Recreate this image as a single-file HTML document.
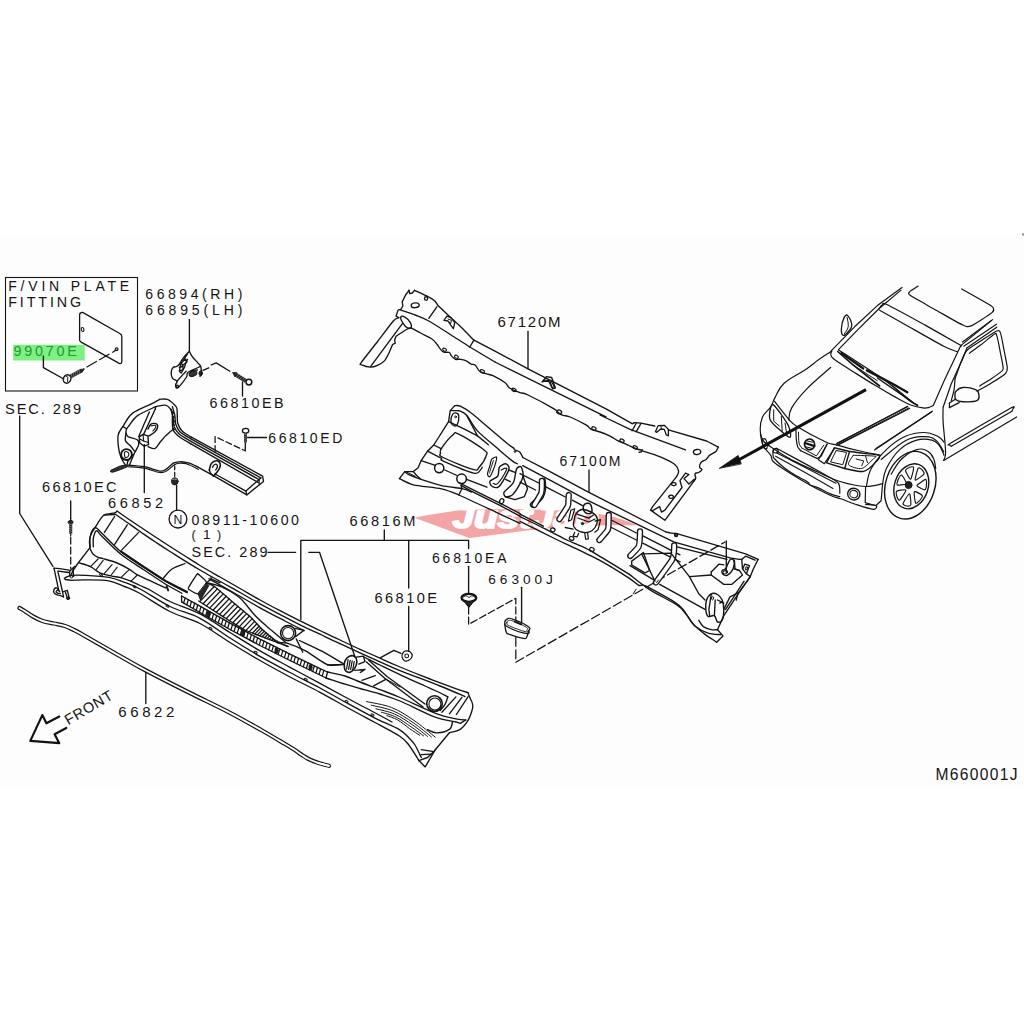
<!DOCTYPE html>
<html lang="en"><head><meta charset="utf-8"><title>Cowl parts diagram M660001J</title>
<style>
html,body{margin:0;padding:0;background:#fff;}
body{width:1024px;height:1024px;overflow:hidden;font-family:"Liberation Sans",sans-serif;}
svg{display:block;}
svg path,svg circle,svg ellipse{stroke-linecap:round;stroke-linejoin:round;}
svg text.lbl{font-family:"Liberation Sans",sans-serif;fill:#141414;}
</style></head><body>
<svg width="1024" height="1024" viewBox="0 0 1024 1024">
<rect width="1024" height="1024" fill="#ffffff"/>
<rect x="0" y="236" width="1024" height="551" fill="#fdfdfd"/>
<rect x="1022" y="233.5" width="2" height="2" fill="#8a8a8a"/>
<path d="M414.4,517.7 C430,514.5 450,511.3 463.6,510 C500,508.5 560,509 597,513.6 C612,516 627,520.5 637,525.4 C615,525 590,525.6 569,527 C550,528.2 537,529.3 527,530.6 L469.4,538 Z" fill="#f4a4a4"/>
<text x="452.5" y="527.6" font-family="Liberation Sans, sans-serif" font-weight="bold" font-style="italic" font-size="32" fill="#ffffff" stroke="#ffffff" stroke-width="2.0" stroke-linejoin="round" textLength="146" lengthAdjust="spacingAndGlyphs">JustJap</text>
<rect x="5.5" y="277.5" width="132" height="113.5" fill="none" stroke="#141414" stroke-width="1.1"/>
<text class="lbl" x="8.2" y="290.5" font-size="14" textLength="121" lengthAdjust="spacing">F/VIN PLATE</text>
<text class="lbl" x="8.2" y="306.75" font-size="14.3" textLength="73" lengthAdjust="spacing">FITTING</text>
<rect x="13.1" y="344.8" width="71.6" height="15.7" fill="#7ff082"/>
<text x="13.4" y="355.7" font-family="Liberation Sans, sans-serif" font-size="14.4" fill="#1f9a30" textLength="63.5" lengthAdjust="spacing">99070E</text>
<text class="lbl" x="145.3" y="298.75" font-size="14" textLength="97" lengthAdjust="spacing">66894(RH)</text>
<text class="lbl" x="145.3" y="315" font-size="14" textLength="97" lengthAdjust="spacing">66895(LH)</text>
<text class="lbl" x="5" y="414.25" font-size="14.6" textLength="76" lengthAdjust="spacing">SEC. 289</text>
<text class="lbl" x="42" y="492" font-size="14.6" textLength="74.5" lengthAdjust="spacing">66810EC</text>
<text class="lbl" x="108" y="508" font-size="14.6" textLength="55" lengthAdjust="spacing">66852</text>
<text class="lbl" x="209.5" y="407.5" font-size="14.3" textLength="74" lengthAdjust="spacing">66810EB</text>
<text class="lbl" x="268.3" y="442.5" font-size="14" textLength="74" lengthAdjust="spacing">66810ED</text>
<text class="lbl" x="191.5" y="524.6" font-size="14.2" textLength="107.5" lengthAdjust="spacing">08911-10600</text>
<text class="lbl" x="191.5" y="539" font-size="12.5">(</text>
<text class="lbl" x="203" y="539.3" font-size="13.7">1</text>
<text class="lbl" x="217" y="539" font-size="12.5">)</text>
<text class="lbl" x="191.5" y="556.8" font-size="14.4" textLength="76" lengthAdjust="spacing">SEC. 289</text>
<circle cx="178.0" cy="519.1" r="8.9" fill="none" stroke="#141414" stroke-width="1.35"/>
<text class="lbl" x="178" y="523.6" font-size="12.3" text-anchor="middle">N</text>
<text class="lbl" x="118.3" y="717" font-size="15" textLength="56" lengthAdjust="spacing">66822</text>
<text class="lbl" x="349.5" y="526" font-size="14.6" textLength="66" lengthAdjust="spacing">66816M</text>
<text class="lbl" x="374.5" y="602.5" font-size="14.6" textLength="62.5" lengthAdjust="spacing">66810E</text>
<text class="lbl" x="432" y="562.5" font-size="14" textLength="74.5" lengthAdjust="spacing">66810EA</text>
<text class="lbl" x="488.3" y="583.75" font-size="13.6" textLength="64.5" lengthAdjust="spacing">66300J</text>
<text class="lbl" x="497.5" y="326.8" font-size="15" textLength="63" lengthAdjust="spacing">67120M</text>
<text class="lbl" x="559.5" y="465.5" font-size="14" textLength="61" lengthAdjust="spacing">67100M</text>
<text class="lbl" x="935.5" y="780.4" font-size="15.6" textLength="82" lengthAdjust="spacing">M660001J</text>
<text class="lbl" x="68.1" y="725.1" font-size="14.6" textLength="53" lengthAdjust="spacing" transform="rotate(-30.3 68.6 725.1)">FRONT</text>
<path d="M79.6,315.0 Q79.6,312.4 82.6,312.4 L120.2,333.8 Q121.8,334.6 121.8,336.5 L121.8,361.2 Q121.8,364.2 119.2,363.4 L81.6,342.4 Q79.6,341.2 79.6,340.3 Z" fill="none" stroke="#141414" stroke-width="1.3" />
<ellipse cx="82.6" cy="329.5" rx="1.3" ry="2.0" transform="rotate(-15.0 82.6 329.5)" fill="none" stroke="#141414" stroke-width="1.1"/>
<circle cx="116.6" cy="349.3" r="1.4" fill="none" stroke="#141414" stroke-width="1.2"/>
<path d="M115.9,350.0 L112.7,352.2" fill="none" stroke="#141414" stroke-width="1.3" />
<path d="M109.0,354.2 L83.7,368.8" fill="none" stroke="#141414" stroke-width="1.25" stroke-dasharray="11 3.5"/>
<path d="M70.6,376.5 L81.6,370.4" fill="none" stroke="#262626" stroke-width="4.0" style="stroke-linecap:butt"/>
<path d="M71.1,373.9 L72.2,377.9" fill="none" stroke="#c8c8c8" stroke-width="0.45" />
<path d="M73.0,372.8 L74.1,376.8" fill="none" stroke="#c8c8c8" stroke-width="0.45" />
<path d="M75.0,371.8 L76.0,375.7" fill="none" stroke="#c8c8c8" stroke-width="0.45" />
<path d="M76.9,370.7 L78.0,374.7" fill="none" stroke="#c8c8c8" stroke-width="0.45" />
<path d="M78.8,369.6 L79.9,373.6" fill="none" stroke="#c8c8c8" stroke-width="0.45" />
<path d="M81.3,369.2 L84.2,369.3 L82.4,371.8 Z" fill="#262626" stroke="#141414" stroke-width="0.8" />
<ellipse cx="67.1" cy="379.0" rx="3.7" ry="4.3" transform="rotate(25.0 67.1 379.0)" fill="none" stroke="#141414" stroke-width="1.4"/>
<path d="M65.4,375.7 L67.8,377.1 L67.6,381.6" fill="none" stroke="#141414" stroke-width="1.0" />
<path d="M43.4,355.9 L43.4,367.7 L63.8,379.0" fill="none" stroke="#141414" stroke-width="1.35" />
<path d="M189.4,319.5 L189.4,351.5" fill="none" stroke="#141414" stroke-width="1.35" />
<path d="M242.5,382.0 L242.5,396.0" fill="none" stroke="#141414" stroke-width="1.35" />
<path d="M203.0,370.3 L208.8,367.8" fill="none" stroke="#141414" stroke-width="1.3" />
<path d="M211.3,364.9 L216.2,362.9 L229.8,371.2" fill="none" stroke="#141414" stroke-width="1.3" />
<path d="M247.0,437.5 L266.5,437.5" fill="none" stroke="#141414" stroke-width="1.35" />
<path d="M215.1,451.5 L215.1,436.6 L245.2,450.8" fill="none" stroke="#141414" stroke-width="1.25" stroke-dasharray="6 3"/>
<path d="M245.2,450.8 L245.4,443.0" fill="none" stroke="#141414" stroke-width="1.35" />
<path d="M144.3,444.5 L144.3,492.5" fill="none" stroke="#141414" stroke-width="1.35" />
<path d="M174.7,465.8 L174.7,477.5" fill="none" stroke="#141414" stroke-width="1.25" stroke-dasharray="4 2.5"/>
<path d="M176.6,485.5 L176.6,510.0" fill="none" stroke="#141414" stroke-width="1.35" />
<path d="M19.7,416.0 L19.7,513.5 L52.9,566.4" fill="none" stroke="#141414" stroke-width="1.35" />
<path d="M70.7,500.8 L70.7,518.6" fill="none" stroke="#141414" stroke-width="1.35" />
<path d="M70.7,537.0 L70.7,568.5" fill="none" stroke="#141414" stroke-width="1.25" stroke-dasharray="7 3"/>
<path d="M268.0,552.3 L295.6,552.3" fill="none" stroke="#141414" stroke-width="1.35" />
<path d="M308.8,552.3 L319.5,552.3 L355.0,657.0" fill="none" stroke="#141414" stroke-width="1.35" />
<path d="M384.3,530.0 L384.3,540.3" fill="none" stroke="#141414" stroke-width="1.35" />
<path d="M300.8,619.5 L300.8,540.3 L468.6,540.3 L468.6,548.5" fill="none" stroke="#141414" stroke-width="1.35" />
<path d="M408.7,540.3 L408.7,588.0" fill="none" stroke="#141414" stroke-width="1.35" />
<path d="M408.7,606.5 L408.7,651.0" fill="none" stroke="#141414" stroke-width="1.35" />
<path d="M468.6,566.3 L468.6,593.6" fill="none" stroke="#141414" stroke-width="1.35" />
<path d="M468.6,607.0 L468.6,624.4 L515.8,598.3 L515.8,619.4" fill="none" stroke="#141414" stroke-width="1.25" stroke-dasharray="7 3"/>
<path d="M521.6,587.3 L521.6,622.5" fill="none" stroke="#141414" stroke-width="1.35" />
<path d="M515.8,637.3 L515.8,662.3 L725.0,542.0" fill="none" stroke="#141414" stroke-width="1.25" stroke-dasharray="9 3.5"/>
<path d="M726.3,541.0 L726.3,572.5" fill="none" stroke="#141414" stroke-width="1.35" />
<path d="M145.8,671.5 L145.8,703.5" fill="none" stroke="#141414" stroke-width="1.35" />
<path d="M528.0,331.3 L528.0,368.8" fill="none" stroke="#141414" stroke-width="1.35" />
<path d="M589.0,470.0 L589.0,491.8" fill="none" stroke="#141414" stroke-width="1.35" />
<path d="M189.4,351.2 C190.2,352.8 190.2,353.7 192.5,356.9 C194.8,360.0 196.0,360.6 198.1,363.1 C200.3,365.6 199.8,364.4 200.6,366.2 C201.5,368.1 200.9,368.0 201.2,370.0 C201.6,372.0 202.2,372.1 201.9,373.8 C201.5,375.4 200.5,375.6 200.0,376.2" fill="none" stroke="#141414" stroke-width="1.35" />
<path d="M189.4,351.2 C187.7,353.1 186.1,354.3 183.1,358.1 C180.1,362.0 180.8,363.1 178.1,365.6 C175.5,368.1 175.0,365.7 173.1,367.5 C171.3,369.3 171.4,369.7 171.2,372.5 C171.1,375.3 171.0,375.8 172.5,378.1 C174.0,380.5 176.0,379.4 176.9,381.2 C177.7,383.1 175.6,383.2 175.6,385.0 C175.6,386.8 175.7,388.0 176.9,388.1 C178.0,388.3 177.5,388.5 180.0,385.6 C182.5,382.8 184.2,380.8 186.2,377.5 C188.2,374.2 186.2,375.0 187.5,373.1 C188.8,371.3 188.6,371.5 191.2,370.6 C193.9,369.8 195.8,370.2 197.5,370.0" fill="none" stroke="#141414" stroke-width="1.35" />
<path d="M187.5,353.8 L180.6,364.4 L179.4,371.2 L181.2,373.1 L184.4,367.5 L186.2,361.9 L187.5,359.4" fill="none" stroke="#141414" stroke-width="1.35" />
<path d="M181.2,362.5 L185.6,359.0 L186.9,361.9 L182.5,365.6 L181.2,362.5" fill="none" stroke="#141414" stroke-width="1.35" />
<path d="M179.4,367.5 L183.1,366.2 L182.8,369.8 L179.8,370.6" fill="none" stroke="#141414" stroke-width="1.35" />
<path d="M176.9,381.2 L183.1,374.4 L186.2,371.2" fill="none" stroke="#141414" stroke-width="1.35" />
<path d="M191.2,370.6 L198.1,367.5 L200.6,366.2" fill="none" stroke="#141414" stroke-width="1.35" />
<ellipse cx="193.0" cy="373.6" rx="4.0" ry="2.6" transform="rotate(-20.0 193.0 373.6)" fill="#333" stroke="#141414" stroke-width="1.0"/>
<ellipse cx="200.6" cy="373.3" rx="1.6" ry="2.4" transform="rotate(0.0 200.6 373.3)" fill="#222" stroke="#141414" stroke-width="1.0"/>
<circle cx="177.3" cy="386.3" r="1.2" fill="none" stroke="#141414" stroke-width="1.35"/>
<path d="M245.9,381.0 L235.5,374.5" fill="none" stroke="#262626" stroke-width="3.9" style="stroke-linecap:butt"/>
<path d="M243.4,381.8 L246.3,379.0" fill="none" stroke="#c8c8c8" stroke-width="0.45" />
<path d="M241.6,380.6 L244.5,377.8" fill="none" stroke="#c8c8c8" stroke-width="0.45" />
<path d="M239.7,379.4 L242.6,376.6" fill="none" stroke="#c8c8c8" stroke-width="0.45" />
<path d="M237.8,378.3 L240.7,375.5" fill="none" stroke="#c8c8c8" stroke-width="0.45" />
<path d="M236.0,377.1 L238.9,374.3" fill="none" stroke="#c8c8c8" stroke-width="0.45" />
<path d="M236.3,372.6 L232.6,372.6 L234.7,376.4 Z" fill="#262626" stroke="#141414" stroke-width="0.8" />
<circle cx="248.9" cy="382.1" r="2.9" fill="none" stroke="#141414" stroke-width="1.5"/>
<ellipse cx="245.6" cy="430.8" rx="3.2" ry="2.4" transform="rotate(0.0 245.6 430.8)" fill="none" stroke="#141414" stroke-width="1.3"/>
<path d="M245.5,433.3 L245.5,442.5" fill="none" stroke="#262626" stroke-width="3.0" style="stroke-linecap:butt"/>
<path d="M247.0,435.0 L244.0,434.0" fill="none" stroke="#c8c8c8" stroke-width="0.45" />
<path d="M247.0,437.2 L244.0,436.2" fill="none" stroke="#c8c8c8" stroke-width="0.45" />
<path d="M247.0,439.4 L244.0,438.4" fill="none" stroke="#c8c8c8" stroke-width="0.45" />
<path d="M247.0,441.6 L244.0,440.6" fill="none" stroke="#c8c8c8" stroke-width="0.45" />
<ellipse cx="174.8" cy="481.3" rx="3.3" ry="3.6" transform="rotate(0.0 174.8 481.3)" fill="#2a2a2a" stroke="#141414" stroke-width="1.0"/>
<path d="M172.5,479.2 L177.0,479.2" fill="none" stroke="#ddd" stroke-width="0.7" />
<path d="M70.7,518.6 L70.7,521.1" fill="none" stroke="#141414" stroke-width="1.2" />
<path d="M68.3,521.5 L70.7,520.0 L73.1,521.5 L72.6,523.3 L68.8,523.3 Z" fill="#2a2a2a" stroke="#141414" stroke-width="1.0" />
<path d="M70.7,523.3 L70.7,533.8" fill="none" stroke="#262626" stroke-width="3.1" style="stroke-linecap:butt"/>
<path d="M72.3,525.0 L69.2,524.0" fill="none" stroke="#c8c8c8" stroke-width="0.45" />
<path d="M72.3,527.2 L69.2,526.2" fill="none" stroke="#c8c8c8" stroke-width="0.45" />
<path d="M72.3,529.4 L69.2,528.4" fill="none" stroke="#c8c8c8" stroke-width="0.45" />
<path d="M72.3,531.6 L69.2,530.6" fill="none" stroke="#c8c8c8" stroke-width="0.45" />
<path d="M72.3,533.8 L69.2,532.8" fill="none" stroke="#c8c8c8" stroke-width="0.45" />
<path d="M70.7,533.8 L70.7,535.7" fill="none" stroke="#141414" stroke-width="1.2" />
<path d="M54.0,568.2 L59.7,568.7 L69.2,570.2" fill="none" stroke="#141414" stroke-width="1.35" />
<path d="M58.4,571.2 L68.6,572.5" fill="none" stroke="#141414" stroke-width="1.35" />
<path d="M54.0,568.2 L58.7,590.3" fill="none" stroke="#141414" stroke-width="1.35" />
<path d="M57.8,571.2 L62.5,591.6 L63.5,596.9" fill="none" stroke="#141414" stroke-width="1.35" />
<path d="M58.7,590.3 C58.3,589.9 57.3,587.9 56.5,587.8 C55.7,587.6 54.4,588.8 54.0,589.7 C53.5,590.5 53.5,592.0 54.0,592.8 C54.4,593.7 55.5,594.3 56.5,594.7 C57.4,595.2 58.5,595.0 59.7,595.4 C60.8,595.7 62.8,596.6 63.5,596.9" fill="none" stroke="#141414" stroke-width="1.35" />
<path d="M59.7,591.6 C59.4,591.3 58.4,590.3 57.8,590.3 C57.2,590.3 56.2,591.1 56.1,591.6 C56.0,592.0 56.7,592.8 57.4,593.1 C58.1,593.4 59.8,593.4 60.3,593.5" fill="none" stroke="#141414" stroke-width="1.35" />
<path d="M63.5,591.6 L67.3,590.3 L69.2,597.9" fill="none" stroke="#141414" stroke-width="1.35" />
<path d="M65.4,592.2 L67.3,597.9" fill="none" stroke="#141414" stroke-width="1.35" />
<ellipse cx="68.1" cy="598.3" rx="1.6" ry="1.3" transform="rotate(0.0 68.1 598.3)" fill="#222" stroke="#141414" stroke-width="1.0"/>
<path d="M69.6,571.2 L73.0,568.1 L74.9,566.2" fill="none" stroke="#141414" stroke-width="1.35" />
<path d="M73.0,568.1 L73.6,576.3" fill="none" stroke="#141414" stroke-width="1.35" />
<path d="M69.6,571.2 L69.8,575.7" fill="none" stroke="#141414" stroke-width="1.35" />
<circle cx="71.5" cy="576.5" r="1.5" fill="none" stroke="#141414" stroke-width="1.0"/>
<ellipse cx="468.9" cy="597.8" rx="7.4" ry="4.0" transform="rotate(0.0 468.9 597.8)" fill="none" stroke="#141414" stroke-width="2.3"/>
<path d="M463.5,597.2 C463.9,597.0 465.1,595.8 466.0,595.8 C466.9,595.8 468.0,597.3 469.0,597.3 C470.0,597.3 471.1,595.8 472.0,595.8 C472.9,595.8 474.1,597.0 474.5,597.2" fill="none" stroke="#141414" stroke-width="1.0" />
<path d="M464.5,601.6 L468.9,607.2 L473.3,601.6" fill="#222" stroke="#141414" stroke-width="1.2" />
<path d="M402.5,653.6 C403.1,652.5 404.3,651.2 405.6,650.9 C406.9,650.7 409.2,651.2 410.3,652.0 C411.4,652.9 412.3,654.6 412.2,655.9 C412.1,657.2 410.8,659.0 409.5,659.8 C408.3,660.7 406.1,661.3 404.8,660.9 C403.6,660.5 402.6,658.7 402.2,657.5 C401.8,656.3 401.9,654.7 402.5,653.6 Z" fill="none" stroke="#141414" stroke-width="1.2" />
<circle cx="406.7" cy="655.9" r="1.9" fill="none" stroke="#141414" stroke-width="1.1"/>
<path d="M504.8,622.8 C504.6,620.8 505.5,619.6 507.5,618.8 C509.5,617.9 508.7,617.6 513.4,619.4 C518.2,621.1 524.2,623.7 527.8,626.2 C531.5,628.8 529.5,628.6 529.1,630.3 C528.6,632.0 530.7,634.1 525.9,633.4 C521.2,632.8 513.7,630.0 508.8,627.5 C503.8,625.0 505.1,624.9 504.8,622.8 Z" fill="none" stroke="#141414" stroke-width="1.3" />
<path d="M506.9,622.8 C506.7,621.6 507.2,621.0 508.8,620.6 C510.3,620.3 509.4,619.7 513.4,621.2 C517.5,622.8 523.1,625.1 526.2,627.2 C529.4,629.2 527.1,629.0 526.9,630.0 C526.6,631.0 529.2,632.5 525.2,631.6 C521.1,630.6 513.8,628.0 509.5,625.9 C505.3,623.9 507.1,624.1 506.9,622.8 Z" fill="none" stroke="#141414" stroke-width="0.9" />
<path d="M504.7,623.8 C505.1,625.6 505.1,629.4 506.2,631.9 C507.4,634.4 505.5,632.8 509.5,634.4 C513.6,635.9 519.5,637.9 523.6,638.4 C527.6,638.9 525.7,638.4 526.9,636.6 C528.0,634.7 528.2,632.0 528.6,630.6" fill="none" stroke="#141414" stroke-width="1.3" />
<path d="M514.7,621.7 L521.2,624.4" fill="none" stroke="#141414" stroke-width="1.8" />
<path d="M59.3,716.6 L46.4,723.3 L42.3,715.1 L30.3,740.9 L59.3,743.2 L54.6,734.2 L66.3,728.0" fill="none" stroke="#111" stroke-width="2.2" />
<path d="M866.0,389.6 L738.0,460.3" fill="none" stroke="#111" stroke-width="3.0" style="stroke-linecap:butt"/>
<path d="M719.5,468.2 L738.2,455.4 L741.2,463.6 Z" fill="#111" stroke="#111" stroke-width="0.8" />
<path d="M159.7,399.3 C160.9,399.3 165.4,398.6 167.5,399.3 C169.6,399.9 172.0,402.4 173.4,403.7 C174.8,405.0 176.2,406.3 176.8,408.1 C177.4,409.8 177.1,413.1 177.3,415.4 C177.4,417.7 177.0,420.9 177.8,423.2 C178.5,425.5 180.2,429.0 182.1,431.0 C184.1,433.1 189.6,436.0 190.9,436.9" fill="none" stroke="#141414" stroke-width="1.35" />
<path d="M190.9,436.9 L262.6,476.1 L263.5,481.4 L246.8,494.9 L214.3,476.1 L198.4,467.3" fill="none" stroke="#141414" stroke-width="1.35" />
<path d="M198.4,467.3 C197.3,466.8 193.5,464.7 191.4,463.8 C189.3,463.0 188.1,462.6 186.1,462.3 C184.0,461.9 181.3,461.6 179.2,461.8 C177.1,461.9 175.6,461.9 173.4,463.2 C171.1,464.5 167.8,468.3 165.5,469.6 C163.3,470.9 163.3,471.5 159.7,471.1 C156.1,470.6 149.3,467.6 144.1,466.7 C138.9,465.7 131.0,465.4 128.4,465.2" fill="none" stroke="#141414" stroke-width="1.35" />
<path d="M198.4,469.5 C197.3,468.8 193.5,466.7 191.4,465.8 C189.3,464.8 188.0,464.1 186.1,463.6 C184.1,463.2 181.7,463.1 179.7,463.2 C177.8,463.4 176.5,463.4 174.3,464.7 C172.1,466.0 169.0,469.8 166.5,471.1 C164.1,472.4 163.4,473.0 159.7,472.5 C155.9,472.0 149.3,469.1 144.1,468.1 C138.9,467.1 131.0,466.9 128.4,466.7" fill="none" stroke="#141414" stroke-width="1.1" />
<path d="M159.7,399.3 C158.5,399.9 156.0,401.5 151.9,403.7 C147.8,405.8 136.7,410.1 132.3,413.4 C128.0,416.8 125.2,422.9 123.1,426.1 C120.9,429.4 118.8,431.6 118.2,434.9 C117.5,438.3 118.2,445.2 118.7,448.6 C119.1,452.0 120.1,454.9 121.1,457.4 C122.1,459.9 124.8,464.0 125.5,465.2" fill="none" stroke="#141414" stroke-width="1.35" />
<path d="M126.0,465.0 L119.6,466.2 L110.9,470.3 L110.4,471.8 L112.8,472.2 L120.6,469.6 L127.9,466.4 Z" fill="#333" stroke="#141414" stroke-width="1.0" />
<path d="M155.8,406.6 C153.0,408.0 141.4,412.8 137.2,415.9 C133.1,419.0 129.6,425.1 127.9,427.1 C126.3,429.1 126.7,428.8 126.5,429.1" fill="none" stroke="#141414" stroke-width="1.35" />
<path d="M123.1,426.6 L126.5,428.8" fill="none" stroke="#141414" stroke-width="1.35" />
<path d="M126.5,429.1 C126.4,429.7 125.7,431.7 126.0,433.0 C126.3,434.3 126.6,435.7 128.4,436.9 C130.3,438.0 135.5,438.5 137.2,439.8 C138.9,441.1 139.2,442.4 138.7,444.7 C138.2,447.0 135.8,450.1 134.3,453.5 C132.8,456.9 130.2,463.2 129.4,465.2" fill="none" stroke="#141414" stroke-width="1.35" />
<path d="M126.0,433.0 C125.9,434.3 124.8,438.7 125.5,440.8 C126.2,442.9 128.9,444.0 130.4,445.7 C131.9,447.4 133.6,450.1 134.3,451.0" fill="none" stroke="#141414" stroke-width="1.35" />
<path d="M149.4,412.0 L138.7,436.4" fill="none" stroke="#141414" stroke-width="1.35" />
<path d="M155.3,409.0 L143.6,434.4" fill="none" stroke="#141414" stroke-width="1.35" />
<path d="M155.8,406.6 L155.3,409.0" fill="none" stroke="#141414" stroke-width="1.35" />
<path d="M139.2,436.9 L143.1,434.4 L148.0,435.9 L148.5,444.7 L144.1,446.2 L139.7,442.7 L139.2,436.9" fill="none" stroke="#141414" stroke-width="1.4" />
<path d="M143.1,434.9 L143.6,441.0 L148.2,442.5" fill="none" stroke="#141414" stroke-width="1.1" />
<path d="M139.4,438.8 L143.6,441.0" fill="none" stroke="#141414" stroke-width="1.1" />
<path d="M148.0,429.1 C148.5,428.2 149.6,425.1 150.9,424.2 C152.2,423.3 154.6,423.3 155.8,423.7 C156.9,424.1 157.9,425.2 157.7,426.6 C157.6,428.0 156.3,430.4 154.8,432.0 C153.3,433.5 149.9,435.2 148.9,435.9" fill="none" stroke="#141414" stroke-width="1.4" />
<path d="M150.9,425.9 C151.5,425.8 154.0,425.0 154.8,425.2 C155.6,425.4 156.1,426.1 155.8,427.1 C155.5,428.1 153.3,430.4 152.9,431.0" fill="none" stroke="#141414" stroke-width="1.1" />
<path d="M155.8,406.6 C157.4,406.4 163.1,404.7 165.5,405.1 C168.0,405.5 169.3,407.5 170.4,409.0 C171.6,410.6 172.1,413.5 172.4,414.4" fill="none" stroke="#141414" stroke-width="1.35" />
<path d="M173.4,429.1 C172.1,430.2 167.8,433.6 165.5,435.9 C163.3,438.2 161.5,440.6 159.7,442.7 C157.9,444.9 156.8,447.9 154.8,448.6 C152.9,449.2 149.1,447.0 148.0,446.6" fill="none" stroke="#141414" stroke-width="1.35" />
<circle cx="126.5" cy="454.5" r="5.4" fill="none" stroke="#141414" stroke-width="1.9"/>
<path d="M124.5,452.5 C124.9,451.6 126.2,451.5 127.0,451.7 C127.7,452.0 128.8,453.1 128.9,454.0 C129.0,454.8 128.3,456.4 127.7,456.9 C127.0,457.4 125.5,457.9 125.0,457.2 C124.5,456.5 124.2,453.4 124.5,452.5 Z" fill="none" stroke="#141414" stroke-width="1.1" />
<path d="M121.1,457.4 L127.9,460.8 L133.3,454.5" fill="none" stroke="#141414" stroke-width="1.35" />
<path d="M127.9,460.8 L127.0,465.2" fill="none" stroke="#141414" stroke-width="1.35" />
<path d="M172.4,406.6 C172.7,407.9 174.3,412.8 174.8,415.4 C175.3,418.0 175.0,421.7 175.8,424.2 C176.6,426.7 177.9,429.8 180.2,432.0 C182.5,434.2 189.3,437.8 190.9,438.8" fill="none" stroke="#141414" stroke-width="1.35" />
<path d="M171.4,409.5 C171.7,411.0 172.9,416.7 173.4,419.3 C173.8,421.9 173.5,424.9 174.3,427.1 C175.2,429.3 176.7,431.8 179.2,433.9 C181.7,436.1 189.2,440.2 190.9,441.3" fill="none" stroke="#141414" stroke-width="1.35" />
<path d="M172.4,414.4 C172.5,416.6 172.0,425.8 172.9,429.1 C173.8,432.3 175.5,433.7 178.2,435.9 C181.0,438.1 189.0,442.7 190.9,443.9" fill="none" stroke="#141414" stroke-width="1.35" />
<path d="M172.6,412.0 L174.5,413.7" fill="none" stroke="#141414" stroke-width="1.3" />
<path d="M172.6,415.9 L174.5,417.6" fill="none" stroke="#141414" stroke-width="1.3" />
<path d="M172.6,419.8 L174.5,421.5" fill="none" stroke="#141414" stroke-width="1.3" />
<path d="M172.6,423.7 L174.5,425.4" fill="none" stroke="#141414" stroke-width="1.3" />
<path d="M172.6,427.6 L174.5,429.4" fill="none" stroke="#141414" stroke-width="1.3" />
<path d="M190.9,438.8 L260.8,477.9" fill="none" stroke="#141414" stroke-width="1.35" />
<path d="M190.9,441.3 L259.1,479.6" fill="none" stroke="#141414" stroke-width="1.35" />
<path d="M190.9,443.9 L258.2,482.5" fill="none" stroke="#141414" stroke-width="1.35" />
<path d="M260.8,477.9 L245.9,491.1 L215.1,474.0" fill="none" stroke="#141414" stroke-width="1.35" />
<path d="M259.1,479.6 L259.1,484.0" fill="none" stroke="#141414" stroke-width="1.35" />
<path d="M245.9,491.1 L246.8,494.9" fill="none" stroke="#141414" stroke-width="1.35" />
<path d="M215.1,474.0 L214.3,476.1" fill="none" stroke="#141414" stroke-width="1.35" />
<path d="M209.3,470.0 C209.6,469.1 210.1,466.1 210.7,464.7 C211.4,463.3 212.3,462.4 213.4,461.7 C214.5,461.1 216.3,460.5 217.4,460.8 C218.6,461.2 219.9,462.6 220.2,463.8 C220.6,465.1 220.1,466.8 219.5,468.2 C218.9,469.7 217.7,471.3 216.7,472.6 C215.7,473.9 213.9,475.5 213.4,476.1" fill="none" stroke="#141414" stroke-width="1.6" />
<path d="M212.5,467.3 C212.8,466.9 213.6,465.2 214.3,464.7 C215.0,464.2 216.2,464.1 216.7,464.5 C217.2,464.9 217.6,466.1 217.4,467.0 C217.2,467.9 216.0,469.5 215.7,470.0" fill="none" stroke="#141414" stroke-width="1.3" />
<path d="M209.3,470.0 L210.4,473.0 L213.4,476.1" fill="none" stroke="#141414" stroke-width="1.4" />
<path d="M117.0,511.0 C118.8,512.3 124.2,516.1 128.0,518.7 C131.8,521.3 135.5,523.8 140.0,526.8 C144.5,529.8 150.0,533.5 155.0,536.8 C160.0,540.1 165.0,543.3 170.0,546.5 C175.0,549.7 180.0,552.8 185.0,556.0 C190.0,559.2 194.2,562.0 200.0,565.5 C205.8,569.0 213.3,573.2 220.0,577.0 C226.7,580.8 233.3,584.7 240.0,588.5 C246.7,592.3 253.3,596.3 260.0,600.0 C266.7,603.7 273.3,607.2 280.0,610.7 C286.7,614.2 293.3,617.6 300.0,620.9 C306.7,624.2 313.3,627.3 320.0,630.5 C326.7,633.7 333.3,636.9 340.0,640.0 C346.7,643.1 353.3,646.3 360.0,649.3 C366.7,652.3 373.3,655.2 380.0,658.2 C386.7,661.2 391.7,663.5 400.0,667.0 C408.3,670.5 420.8,675.5 430.0,679.0 C439.2,682.5 448.6,686.0 455.0,688.3 C461.4,690.6 465.9,692.0 468.1,692.7" fill="none" stroke="#141414" stroke-width="1.35" />
<path d="M114.7,513.8 C116.9,515.3 123.8,520.0 128.0,523.0 C132.2,526.0 135.5,528.4 140.0,531.5 C144.5,534.6 150.0,538.5 155.0,541.8 C160.0,545.1 162.5,546.8 170.0,551.5 C177.5,556.2 188.3,563.2 200.0,570.0 C211.7,576.8 230.0,586.9 240.0,592.5 C250.0,598.1 250.0,598.5 260.0,603.9 C270.0,609.3 290.0,619.8 300.0,624.8 C310.0,629.8 313.3,631.1 320.0,634.2 C326.7,637.4 330.0,639.1 340.0,643.7 C350.0,648.3 370.0,657.3 380.0,661.8 C390.0,666.3 390.0,666.6 400.0,670.6 C410.0,674.6 429.2,681.7 440.0,686.0 C450.8,690.3 460.8,694.8 465.0,696.6" fill="none" stroke="#141414" stroke-width="1.35" />
<path d="M209.0,578.8 C213.3,581.2 226.5,588.7 235.0,593.5 C243.5,598.3 251.7,603.2 260.0,607.8 C268.3,612.4 277.7,617.2 285.0,621.0 C292.3,624.8 300.8,629.1 304.0,630.7" fill="none" stroke="#141414" stroke-width="1.35" />
<path d="M364.0,657.0 C366.7,658.3 373.6,661.9 380.0,665.0 C386.4,668.1 395.0,672.3 402.5,675.8 C410.0,679.3 419.0,683.3 425.0,686.0 C431.0,688.7 434.6,690.2 438.4,692.0 C442.2,693.8 446.2,696.1 447.8,696.9" fill="none" stroke="#141414" stroke-width="1.35" />
<path d="M116.5,511.4 C116.2,511.7 116.5,512.4 114.6,512.9 C112.7,513.5 106.5,513.5 103.8,515.2 C101.1,517.0 98.7,521.9 96.8,524.8 C94.9,527.6 92.2,531.9 91.1,534.3 C90.0,536.7 89.6,538.9 89.5,540.9 C89.3,542.9 89.9,546.6 90.0,547.6" fill="none" stroke="#141414" stroke-width="1.35" />
<path d="M90.0,547.6 L77.8,563.5 L72.7,571.1 L70.7,575.9" fill="none" stroke="#141414" stroke-width="1.35" />
<path d="M103.8,515.2 L114.8,514.5" fill="none" stroke="#141414" stroke-width="1.35" />
<path d="M114.6,516.5 L104.4,532.4" fill="none" stroke="#141414" stroke-width="1.35" />
<path d="M127.3,524.8 L114.6,544.4" fill="none" stroke="#141414" stroke-width="1.35" />
<path d="M138.7,532.4 L121.6,550.1" fill="none" stroke="#141414" stroke-width="1.35" />
<path d="M90.1,547.2 C90.1,545.9 89.6,540.6 90.0,538.1 C90.3,535.5 91.4,531.7 92.4,530.2 C93.3,528.7 94.8,527.5 96.2,527.9 C97.6,528.4 98.2,529.7 101.9,533.3 C105.6,536.8 114.7,546.7 120.9,551.8 C127.2,556.9 137.1,562.9 143.8,567.3 C150.5,571.7 158.9,577.4 165.4,581.2 C171.8,585.1 183.7,591.0 187.0,592.7" fill="none" stroke="#141414" stroke-width="1.35" />
<path d="M93.3,546.7 C93.3,545.5 93.0,540.9 93.3,538.7 C93.5,536.6 94.5,533.6 95.0,532.4 C95.6,531.2 96.0,530.3 97.1,530.8 C98.1,531.4 98.3,532.7 101.9,536.2 C105.5,539.7 114.7,549.3 120.9,554.3 C127.2,559.4 137.3,565.5 143.8,569.8 C150.3,574.1 158.4,579.6 164.1,583.2 C169.8,586.7 179.2,591.8 181.9,593.3" fill="none" stroke="#141414" stroke-width="1.35" />
<path d="M120.9,551.3 L143.8,566.9 L165.4,580.9 L187.0,591.9" fill="none" stroke="#141414" stroke-width="2.0" />
<path d="M166.6,586.3 L168.2,590.4" fill="none" stroke="#141414" stroke-width="2.0" />
<path d="M185.0,563.5 C182.4,564.6 176.3,566.1 172.0,569.0 C167.7,571.9 165.2,576.2 163.5,578.0" fill="none" stroke="#141414" stroke-width="1.35" />
<path d="M90.2,548.9 C90.7,549.7 91.7,552.5 93.0,554.0 C94.3,555.4 96.4,556.6 98.1,557.4 C99.8,558.2 100.2,557.8 103.2,558.7 C106.1,559.5 111.6,560.8 115.9,562.5 C120.1,564.2 125.0,566.7 128.6,568.8 C132.2,570.9 134.1,573.0 137.4,574.9 C140.8,576.8 144.2,578.1 148.9,580.2 C153.5,582.4 162.6,586.6 165.4,587.9" fill="none" stroke="#141414" stroke-width="1.35" />
<path d="M79.0,562.8 C80.9,563.5 87.1,565.0 90.5,566.6 C93.9,568.3 96.0,571.1 99.4,572.6 C102.7,574.2 107.2,575.1 110.8,575.9 C114.4,576.8 117.6,576.8 120.9,577.7 C124.3,578.6 129.4,580.7 131.1,581.2" fill="none" stroke="#141414" stroke-width="1.35" />
<path d="M90.5,566.6 L98.1,559.0" fill="none" stroke="#141414" stroke-width="1.15" />
<path d="M96.2,569.6 L103.2,560.4" fill="none" stroke="#141414" stroke-width="1.15" />
<path d="M104.4,573.4 L112.1,564.7" fill="none" stroke="#141414" stroke-width="1.15" />
<path d="M110.8,575.5 L117.1,567.3" fill="none" stroke="#141414" stroke-width="1.15" />
<path d="M120.9,577.7 L129.2,569.6" fill="none" stroke="#141414" stroke-width="1.15" />
<path d="M131.1,581.2 L136.8,575.5" fill="none" stroke="#141414" stroke-width="1.15" />
<path d="M131.1,581.3 C132.6,582.0 136.8,584.0 140.0,585.5 C143.2,587.0 145.0,587.3 150.0,590.0 C155.0,592.7 161.7,597.5 170.0,601.5 C178.3,605.5 190.0,608.6 200.0,613.8 C210.0,619.0 220.0,626.3 230.0,632.5 C240.0,638.7 250.0,645.1 260.0,650.9 C270.0,656.7 280.0,661.9 290.0,667.3 C300.0,672.7 310.4,678.2 320.0,683.4 C329.6,688.6 338.7,693.6 347.8,698.5 C356.9,703.4 367.0,708.6 374.4,712.5 C381.8,716.4 389.1,720.4 392.0,722.0" fill="none" stroke="#141414" stroke-width="1.35" />
<path d="M65.9,577.4 C66.9,577.1 68.5,575.7 71.7,575.4 C75.0,575.1 79.2,575.1 85.4,575.4 C91.6,575.7 102.3,576.2 108.8,577.4 C115.3,578.5 119.3,580.4 124.5,582.3 C129.7,584.2 132.4,585.0 140.0,589.0 C147.6,593.0 160.0,601.6 170.0,606.5 C180.0,611.4 190.0,613.0 200.0,618.3 C210.0,623.5 220.0,631.6 230.0,638.0 C240.0,644.4 250.0,650.6 260.0,656.4 C270.0,662.1 280.0,667.2 290.0,672.5 C300.0,677.8 310.4,682.8 320.0,688.0 C329.6,693.2 338.7,698.5 347.8,703.5 C356.9,708.5 365.8,713.4 374.4,717.8 C383.0,722.1 393.5,726.1 399.4,729.6 C405.3,733.1 407.4,736.4 410.0,739.0 C412.6,741.6 413.1,741.9 415.0,745.0 C416.9,748.1 420.2,755.4 421.3,757.5" fill="none" stroke="#141414" stroke-width="1.35" />
<path d="M65.9,579.6 C66.9,579.7 68.5,580.2 71.7,580.3 C75.0,580.3 79.2,579.8 85.4,579.9 C91.6,580.0 102.3,579.8 108.8,580.9 C115.3,582.0 119.3,584.4 124.5,586.5 C129.7,588.6 132.4,589.3 140.0,593.5 C147.6,597.7 160.0,606.5 170.0,611.5 C180.0,616.5 190.0,618.3 200.0,623.5 C210.0,628.7 220.0,636.3 230.0,642.5 C240.0,648.7 250.0,654.8 260.0,660.5 C270.0,666.2 280.0,671.7 290.0,677.0 C300.0,682.3 310.6,687.3 320.0,692.3 C329.4,697.3 337.3,702.0 346.3,707.0 C355.3,712.0 365.1,717.2 374.0,722.0 C382.9,726.8 393.6,732.2 399.4,736.0 C405.2,739.8 405.6,740.9 408.8,745.0 C412.1,749.1 417.2,758.0 418.9,760.6" fill="none" stroke="#141414" stroke-width="1.35" />
<path d="M65.9,577.4 C65.6,577.6 64.3,578.1 64.3,578.5 C64.3,578.9 65.6,579.4 65.9,579.6" fill="none" stroke="#141414" stroke-width="1.35" />
<ellipse cx="101.0" cy="574.8" rx="1.6" ry="0.9" transform="rotate(27.0 101.0 574.8)" fill="none" stroke="#141414" stroke-width="1.0"/>
<ellipse cx="134.6" cy="586.7" rx="1.6" ry="0.9" transform="rotate(27.0 134.6 586.7)" fill="none" stroke="#141414" stroke-width="1.0"/>
<ellipse cx="167.5" cy="606.0" rx="1.6" ry="0.9" transform="rotate(27.0 167.5 606.0)" fill="none" stroke="#141414" stroke-width="1.0"/>
<ellipse cx="210.5" cy="628.5" rx="1.6" ry="0.9" transform="rotate(27.0 210.5 628.5)" fill="none" stroke="#141414" stroke-width="1.0"/>
<ellipse cx="255.6" cy="652.3" rx="1.6" ry="0.9" transform="rotate(27.0 255.6 652.3)" fill="none" stroke="#141414" stroke-width="1.0"/>
<ellipse cx="305.8" cy="679.5" rx="1.6" ry="0.9" transform="rotate(27.0 305.8 679.5)" fill="none" stroke="#141414" stroke-width="1.0"/>
<ellipse cx="346.5" cy="701.6" rx="1.6" ry="0.9" transform="rotate(27.0 346.5 701.6)" fill="none" stroke="#141414" stroke-width="1.0"/>
<ellipse cx="372.5" cy="715.0" rx="1.6" ry="0.9" transform="rotate(27.0 372.5 715.0)" fill="none" stroke="#141414" stroke-width="1.0"/>
<path d="M181.6,596.0 L200.0,606.2 L230.0,623.2 L260.0,639.2 L290.0,654.2 L320.0,668.7 L327.5,672.0" fill="none" stroke="#141414" stroke-width="1.35" />
<path d="M181.6,601.8 L200.0,612.5 L230.0,629.5 L260.0,645.5 L290.0,660.5 L320.0,675.0 L326.0,678.0" fill="none" stroke="#141414" stroke-width="1.35" />
<path d="M181.6,596.0 L181.6,601.8" fill="none" stroke="#141414" stroke-width="1.35" />
<path d="M327.5,672.0 L326.0,678.0" fill="none" stroke="#141414" stroke-width="1.35" />
<path d="M185.2,598.0 L183.6,603.0" fill="none" stroke="#141414" stroke-width="1.25" />
<path d="M188.3,599.7 L186.8,604.8" fill="none" stroke="#141414" stroke-width="1.25" />
<path d="M191.5,601.5 L189.9,606.6" fill="none" stroke="#141414" stroke-width="1.25" />
<path d="M194.7,603.2 L193.1,608.5" fill="none" stroke="#141414" stroke-width="1.25" />
<path d="M197.8,605.0 L196.2,610.3" fill="none" stroke="#141414" stroke-width="1.25" />
<path d="M201.0,606.7 L199.4,612.1" fill="none" stroke="#141414" stroke-width="1.25" />
<path d="M204.1,608.5 L202.5,613.9" fill="none" stroke="#141414" stroke-width="1.25" />
<path d="M207.3,610.3 L205.7,615.7" fill="none" stroke="#141414" stroke-width="1.25" />
<path d="M210.4,612.1 L208.8,617.5" fill="none" stroke="#141414" stroke-width="1.25" />
<path d="M213.6,613.9 L212.0,619.3" fill="none" stroke="#141414" stroke-width="1.25" />
<path d="M216.7,615.7 L215.1,621.1" fill="none" stroke="#141414" stroke-width="1.25" />
<path d="M219.9,617.4 L218.3,622.8" fill="none" stroke="#141414" stroke-width="1.25" />
<path d="M223.0,619.2 L221.4,624.6" fill="none" stroke="#141414" stroke-width="1.25" />
<path d="M226.2,621.0 L224.6,626.4" fill="none" stroke="#141414" stroke-width="1.25" />
<path d="M229.3,622.8 L227.7,628.2" fill="none" stroke="#141414" stroke-width="1.25" />
<path d="M232.5,624.5 L230.9,630.0" fill="none" stroke="#141414" stroke-width="1.25" />
<path d="M235.6,626.2 L234.0,631.6" fill="none" stroke="#141414" stroke-width="1.25" />
<path d="M238.8,627.9 L237.2,633.3" fill="none" stroke="#141414" stroke-width="1.25" />
<path d="M241.9,629.5 L240.3,635.0" fill="none" stroke="#141414" stroke-width="1.25" />
<path d="M245.1,631.2 L243.5,636.7" fill="none" stroke="#141414" stroke-width="1.25" />
<path d="M248.2,632.9 L246.6,638.4" fill="none" stroke="#141414" stroke-width="1.25" />
<path d="M251.4,634.6 L249.8,640.0" fill="none" stroke="#141414" stroke-width="1.25" />
<path d="M254.5,636.3 L252.9,641.7" fill="none" stroke="#141414" stroke-width="1.25" />
<path d="M257.7,637.9 L256.1,643.4" fill="none" stroke="#141414" stroke-width="1.25" />
<path d="M260.8,639.6 L259.2,645.1" fill="none" stroke="#141414" stroke-width="1.25" />
<path d="M264.0,641.2 L262.4,646.7" fill="none" stroke="#141414" stroke-width="1.25" />
<path d="M267.1,642.8 L265.5,648.2" fill="none" stroke="#141414" stroke-width="1.25" />
<path d="M270.3,644.3 L268.7,649.8" fill="none" stroke="#141414" stroke-width="1.25" />
<path d="M273.4,645.9 L271.8,651.4" fill="none" stroke="#141414" stroke-width="1.25" />
<path d="M276.6,647.5 L274.9,653.0" fill="none" stroke="#141414" stroke-width="1.25" />
<path d="M279.7,649.1 L278.1,654.5" fill="none" stroke="#141414" stroke-width="1.25" />
<path d="M282.8,650.6 L281.2,656.1" fill="none" stroke="#141414" stroke-width="1.25" />
<path d="M286.0,652.2 L284.4,657.7" fill="none" stroke="#141414" stroke-width="1.25" />
<path d="M289.1,653.8 L287.5,659.3" fill="none" stroke="#141414" stroke-width="1.25" />
<path d="M292.3,655.3 L290.7,660.8" fill="none" stroke="#141414" stroke-width="1.25" />
<path d="M295.4,656.8 L293.8,662.4" fill="none" stroke="#141414" stroke-width="1.25" />
<path d="M298.6,658.4 L297.0,663.9" fill="none" stroke="#141414" stroke-width="1.25" />
<path d="M301.7,659.9 L300.1,665.4" fill="none" stroke="#141414" stroke-width="1.25" />
<path d="M304.9,661.4 L303.3,666.9" fill="none" stroke="#141414" stroke-width="1.25" />
<path d="M308.0,662.9 L306.4,668.5" fill="none" stroke="#141414" stroke-width="1.25" />
<path d="M311.2,664.4 L309.6,670.0" fill="none" stroke="#141414" stroke-width="1.25" />
<path d="M314.3,666.0 L312.7,671.5" fill="none" stroke="#141414" stroke-width="1.25" />
<path d="M317.5,667.5 L315.9,673.0" fill="none" stroke="#141414" stroke-width="1.25" />
<path d="M320.6,669.0 L319.0,674.5" fill="none" stroke="#141414" stroke-width="1.25" />
<path d="M323.8,670.4 L322.2,676.1" fill="none" stroke="#141414" stroke-width="1.25" />
<ellipse cx="208.5" cy="614.2" rx="1.5" ry="3.1" transform="rotate(0.0 208.5 614.2)" fill="#222" stroke="#141414" stroke-width="1.0"/>
<ellipse cx="243.0" cy="633.3" rx="1.5" ry="3.1" transform="rotate(0.0 243.0 633.3)" fill="#222" stroke="#141414" stroke-width="1.0"/>
<ellipse cx="276.5" cy="650.6" rx="1.5" ry="3.1" transform="rotate(0.0 276.5 650.6)" fill="#222" stroke="#141414" stroke-width="1.0"/>
<ellipse cx="310.5" cy="667.3" rx="1.5" ry="3.1" transform="rotate(0.0 310.5 667.3)" fill="#222" stroke="#141414" stroke-width="1.0"/>
<path d="M188.6,587.5 C189.5,585.7 195.6,576.1 196.8,574.6 C198.0,573.1 197.6,573.7 198.8,574.6 C199.9,575.6 206.6,580.6 206.6,582.8 C206.6,585.0 200.8,592.9 198.8,593.8 C196.7,594.6 190.6,590.6 189.4,589.8 C188.2,589.1 187.7,589.3 188.6,587.5 Z" fill="none" stroke="#141414" stroke-width="1.35" />
<path d="M206.6,582.8 C207.7,583.4 211.2,584.2 215.0,587.0 C218.8,589.8 230.3,600.0 235.0,604.0 C239.7,608.0 246.9,613.6 250.5,617.0 C254.1,620.4 259.0,626.5 262.3,629.6 C265.6,632.7 271.8,637.9 275.2,640.2 C278.6,642.5 286.3,645.7 288.0,646.5" fill="none" stroke="#141414" stroke-width="1.35" />
<path d="M198.8,601.0 C201.0,602.4 210.8,608.8 215.0,611.5 C219.2,614.2 226.0,618.5 230.0,621.0 C234.0,623.5 240.7,627.9 245.0,630.0 C249.3,632.1 257.3,634.9 262.0,636.7 C266.7,638.5 276.5,642.1 280.0,643.4 C283.5,644.7 286.9,646.1 288.0,646.5" fill="none" stroke="#141414" stroke-width="1.35" />
<path d="M199.8,601.6 L214.2,586.5" fill="none" stroke="#141414" stroke-width="1.3" />
<path d="M203.1,603.8 L217.3,588.9" fill="none" stroke="#141414" stroke-width="1.3" />
<path d="M206.4,605.9 L220.3,591.3" fill="none" stroke="#141414" stroke-width="1.3" />
<path d="M209.7,608.1 L223.2,593.9" fill="none" stroke="#141414" stroke-width="1.3" />
<path d="M213.0,610.2 L226.2,596.3" fill="none" stroke="#141414" stroke-width="1.3" />
<path d="M216.3,612.3 L229.1,598.9" fill="none" stroke="#141414" stroke-width="1.3" />
<path d="M219.6,614.4 L232.0,601.4" fill="none" stroke="#141414" stroke-width="1.3" />
<path d="M222.9,616.5 L234.9,603.9" fill="none" stroke="#141414" stroke-width="1.3" />
<path d="M226.2,618.6 L237.9,606.3" fill="none" stroke="#141414" stroke-width="1.3" />
<path d="M229.5,620.7 L240.8,608.8" fill="none" stroke="#141414" stroke-width="1.3" />
<path d="M232.8,622.7 L243.7,611.2" fill="none" stroke="#141414" stroke-width="1.3" />
<path d="M236.1,624.7 L246.6,613.6" fill="none" stroke="#141414" stroke-width="1.3" />
<path d="M239.4,626.6 L249.5,616.0" fill="none" stroke="#141414" stroke-width="1.3" />
<path d="M242.7,628.6 L252.2,618.6" fill="none" stroke="#141414" stroke-width="1.3" />
<path d="M246.0,630.4 L254.6,621.4" fill="none" stroke="#141414" stroke-width="1.3" />
<path d="M249.3,631.7 L256.9,623.7" fill="none" stroke="#141414" stroke-width="1.3" />
<path d="M252.6,633.0 L259.1,626.2" fill="none" stroke="#141414" stroke-width="1.3" />
<path d="M255.0,633.9 L260.8,627.9" fill="none" stroke="#141414" stroke-width="1.3" />
<path d="M257.4,634.9 L262.4,629.6" fill="none" stroke="#141414" stroke-width="1.3" />
<path d="M259.8,635.8 L264.3,631.1" fill="none" stroke="#141414" stroke-width="1.3" />
<path d="M262.2,636.8 L266.1,632.7" fill="none" stroke="#141414" stroke-width="1.3" />
<path d="M264.6,637.7 L268.0,634.1" fill="none" stroke="#141414" stroke-width="1.3" />
<path d="M267.0,638.6 L269.8,635.6" fill="none" stroke="#141414" stroke-width="1.3" />
<path d="M269.4,639.5 L271.6,637.1" fill="none" stroke="#141414" stroke-width="1.3" />
<path d="M271.8,640.3 L273.4,638.7" fill="none" stroke="#141414" stroke-width="1.3" />
<path d="M274.2,641.2 L275.2,640.2" fill="none" stroke="#141414" stroke-width="1.3" />
<path d="M276.6,642.1 L277.5,641.2" fill="none" stroke="#141414" stroke-width="1.3" />
<path d="M279.0,643.0 L279.7,642.3" fill="none" stroke="#141414" stroke-width="1.3" />
<path d="M206.6,582.8 L208.8,585.5 L200.5,600.0 L198.1,593.8 Z" fill="#2a2a2a" stroke="#141414" stroke-width="1.0" />
<path d="M206.6,582.8 C208.6,583.3 217.1,584.8 221.6,586.8 C226.1,588.8 235.6,594.2 240.0,598.0 C244.4,601.8 251.1,611.3 254.6,615.0 C258.1,618.7 262.9,623.0 266.4,626.1 C269.9,629.2 278.4,636.2 281.0,638.4 C283.6,640.6 285.3,642.0 286.0,642.5" fill="none" stroke="#141414" stroke-width="1.35" />
<path d="M206.6,582.8 L211.2,578.9 L220.0,582.8" fill="none" stroke="#141414" stroke-width="1.35" />
<path d="M211.2,578.9 L210.9,577.0" fill="none" stroke="#141414" stroke-width="1.35" />
<circle cx="288.1" cy="633.1" r="7.5" fill="none" stroke="#141414" stroke-width="1.6"/>
<circle cx="288.1" cy="633.1" r="5.6" fill="none" stroke="#141414" stroke-width="1.1"/>
<path d="M295.0,628.4 L304.1,630.3 L295.5,636.6" fill="none" stroke="#141414" stroke-width="1.35" />
<path d="M296.2,638.9 L302.8,652.2" fill="none" stroke="#141414" stroke-width="1.35" />
<path d="M299.4,640.5 C302.3,641.9 315.4,647.9 321.2,650.9 C327.1,654.0 340.2,661.8 343.1,663.4" fill="none" stroke="#141414" stroke-width="1.35" />
<path d="M277.5,642.8 C278.8,642.9 283.1,642.0 286.9,643.1 C290.6,644.2 300.2,648.1 305.6,650.9 C311.0,653.8 322.4,662.9 327.5,664.7 C332.6,666.4 341.7,664.1 343.9,664.1" fill="none" stroke="#141414" stroke-width="1.35" />
<path d="M344.4,667.5 C344.2,665.1 343.8,663.4 345.0,660.8 C346.2,658.2 347.1,657.2 349.4,656.2 C351.7,655.3 353.1,655.3 354.8,656.6 C356.6,657.8 356.9,658.9 356.9,661.6 C356.9,664.3 356.4,665.6 354.8,668.1 C353.3,670.6 352.2,671.5 350.2,672.2 C348.1,672.9 347.3,672.3 345.9,671.2 C344.6,670.2 344.6,669.9 344.4,667.5 Z" fill="none" stroke="#141414" stroke-width="1.6" />
<path d="M348.1,659.7 L346.6,669.1" fill="none" stroke="#141414" stroke-width="1.2" />
<path d="M350.2,660.3 L348.6,669.4" fill="none" stroke="#141414" stroke-width="1.2" />
<path d="M352.2,660.9 L350.6,669.7" fill="none" stroke="#141414" stroke-width="1.2" />
<path d="M354.2,661.6 L352.7,670.0" fill="none" stroke="#141414" stroke-width="1.2" />
<path d="M356.4,657.2 L363.4,656.2 L365.0,661.6 L358.8,664.1" fill="none" stroke="#141414" stroke-width="1.35" />
<path d="M354.8,670.3 L365.0,669.4 L360.3,672.5" fill="none" stroke="#141414" stroke-width="1.35" />
<path d="M327.5,665.0 L343.9,664.7" fill="none" stroke="#141414" stroke-width="1.35" />
<path d="M366.5,662.0 L385.0,678.5 L423.0,707.0" fill="none" stroke="#141414" stroke-width="1.35" />
<path d="M368.5,660.0 L387.0,676.5 L425.0,704.0" fill="none" stroke="#141414" stroke-width="1.35" />
<path d="M385.0,678.5 L400.0,687.0" fill="none" stroke="#141414" stroke-width="1.0" />
<path d="M361.9,680.3 L375.3,675.6" fill="none" stroke="#141414" stroke-width="1.35" />
<path d="M373.6,685.9 L385.3,679.7" fill="none" stroke="#141414" stroke-width="1.35" />
<path d="M380.6,657.7 L393.9,650.3 L400.9,653.4" fill="none" stroke="#141414" stroke-width="1.35" />
<path d="M327.5,672.0 C330.4,672.7 339.6,674.3 345.0,676.0 C350.4,677.7 354.2,679.7 360.0,682.0 C365.8,684.3 373.3,687.0 380.0,689.6 C386.7,692.2 390.5,693.5 400.0,697.5 C409.5,701.5 427.4,710.2 436.9,713.8 C446.4,717.4 452.4,718.2 457.2,719.2 C462.0,720.2 464.4,719.9 465.8,720.0" fill="none" stroke="#141414" stroke-width="1.35" />
<path d="M326.0,678.0 C329.2,679.0 339.3,682.5 345.0,684.2 C350.7,686.0 354.2,686.9 360.0,688.5 C365.8,690.1 373.3,691.9 380.0,694.0 C386.7,696.1 391.0,697.2 400.0,701.0 C409.0,704.8 424.5,713.1 433.8,716.6 C443.1,720.1 452.0,721.0 455.6,721.9" fill="none" stroke="#141414" stroke-width="1.35" />
<circle cx="434.5" cy="703.6" r="7.8" fill="none" stroke="#141414" stroke-width="1.6"/>
<circle cx="434.9" cy="704.0" r="6.0" fill="none" stroke="#141414" stroke-width="1.1"/>
<path d="M468.1,692.7 C468.4,693.4 468.4,694.1 469.4,696.6 C470.3,699.1 472.5,701.7 472.8,705.2 C473.1,708.6 472.0,710.5 470.9,713.8 C469.8,717.0 469.5,718.4 467.3,721.6 C465.2,724.7 463.9,727.1 460.3,729.4 C456.7,731.6 451.6,732.1 449.4,732.8" fill="none" stroke="#141414" stroke-width="1.35" />
<path d="M449.4,732.8 L435.3,749.7 L425.2,766.9 L418.9,760.6" fill="none" stroke="#141414" stroke-width="1.35" />
<path d="M468.1,696.6 L456.4,714.5" fill="none" stroke="#141414" stroke-width="1.35" />
<path d="M461.9,697.3 L449.4,713.8" fill="none" stroke="#141414" stroke-width="1.35" />
<path d="M455.9,696.9 L441.9,712.2" fill="none" stroke="#141414" stroke-width="1.35" />
<path d="M447.8,696.9 C447.2,698.4 446.6,701.6 445.0,704.4 C443.4,707.1 441.0,709.4 440.0,710.6" fill="none" stroke="#141414" stroke-width="1.35" />
<path d="M452.5,721.6 C451.9,723.1 452.5,727.1 449.4,729.4 C446.2,731.6 441.2,732.8 436.9,732.8 C432.5,732.9 429.4,730.3 427.5,729.7" fill="none" stroke="#141414" stroke-width="1.35" />
<path d="M465.8,720.0 L460.3,723.4 L455.9,721.9" fill="none" stroke="#141414" stroke-width="1.35" />
<path d="M366.6,701.6 C370.7,702.6 383.8,704.4 391.6,707.5 C399.4,710.6 406.1,715.1 413.4,720.0 C420.7,724.9 431.7,734.3 435.3,737.2" fill="none" stroke="#141414" stroke-width="1.0" />
<path d="M371.2,705.2 C374.9,706.1 386.1,708.0 393.1,710.9 C400.2,713.9 407.1,718.5 413.4,722.8 C419.8,727.1 428.4,734.5 431.4,736.9" fill="none" stroke="#141414" stroke-width="1.0" />
<path d="M375.9,708.8 C379.1,709.6 388.6,711.4 394.7,714.1 C400.8,716.8 407.2,721.3 412.7,725.0 C418.1,728.7 425.0,734.5 427.5,736.4" fill="none" stroke="#141414" stroke-width="1.0" />
<path d="M381.4,712.2 C383.9,713.0 391.3,714.7 396.2,717.2 C401.2,719.6 406.5,723.8 411.1,726.9 C415.7,730.0 421.5,734.4 423.6,735.9" fill="none" stroke="#141414" stroke-width="1.0" />
<path d="M386.9,715.6 C388.7,716.4 394.0,717.8 397.8,720.0 C401.6,722.2 405.9,726.0 409.5,728.6 C413.2,731.1 418.0,734.2 419.7,735.3" fill="none" stroke="#141414" stroke-width="1.0" />
<path d="M421.2,749.7 L433.8,751.6 L435.6,749.4" fill="none" stroke="#141414" stroke-width="1.35" />
<path d="M418.9,760.6 L427.5,757.5 L433.8,751.6" fill="none" stroke="#141414" stroke-width="1.35" />
<path d="M421.2,754.7 L431.4,754.1" fill="none" stroke="#141414" stroke-width="1.35" />
<path d="M19.5,608.0 C20.4,608.5 22.8,609.8 25.0,611.2 C27.2,612.6 30.1,614.9 33.0,616.5 C35.9,618.1 39.0,619.8 42.5,621.0 C46.0,622.2 50.2,622.7 54.0,623.5 C57.8,624.3 61.7,624.9 65.0,626.0 C68.3,627.1 71.1,628.6 74.0,630.0 C76.9,631.4 76.5,631.2 82.5,634.6 C88.5,638.0 99.6,644.4 110.0,650.3 C120.4,656.2 131.7,662.9 145.0,670.0 C158.3,677.1 175.8,685.9 190.0,693.0 C204.2,700.1 218.0,706.5 230.0,712.8 C242.0,719.0 252.8,725.3 262.0,730.5 C271.2,735.7 279.6,740.8 285.0,744.0 C290.4,747.2 291.7,747.9 294.5,749.7 C297.3,751.5 299.7,753.5 302.0,755.0 C304.3,756.5 305.8,757.7 308.5,759.0 C311.2,760.3 314.6,761.7 318.0,762.8 C321.4,763.9 327.0,765.3 328.8,765.8" fill="none" stroke="#141414" stroke-width="4.3" />
<path d="M19.5,608.0 C20.4,608.5 22.8,609.8 25.0,611.2 C27.2,612.6 30.1,614.9 33.0,616.5 C35.9,618.1 39.0,619.8 42.5,621.0 C46.0,622.2 50.2,622.7 54.0,623.5 C57.8,624.3 61.7,624.9 65.0,626.0 C68.3,627.1 71.1,628.6 74.0,630.0 C76.9,631.4 76.5,631.2 82.5,634.6 C88.5,638.0 99.6,644.4 110.0,650.3 C120.4,656.2 131.7,662.9 145.0,670.0 C158.3,677.1 175.8,685.9 190.0,693.0 C204.2,700.1 218.0,706.5 230.0,712.8 C242.0,719.0 252.8,725.3 262.0,730.5 C271.2,735.7 279.6,740.8 285.0,744.0 C290.4,747.2 291.7,747.9 294.5,749.7 C297.3,751.5 299.7,753.5 302.0,755.0 C304.3,756.5 305.8,757.7 308.5,759.0 C311.2,760.3 314.6,761.7 318.0,762.8 C321.4,763.9 327.0,765.3 328.8,765.8" fill="none" stroke="#ffffff" stroke-width="1.9" />
<path d="M318.0,762.8 L328.8,765.8" fill="none" stroke="#fff" stroke-width="1.9" />
<path d="M414.5,290.3 C416.4,291.2 422.8,294.0 426.1,295.7 C429.4,297.4 432.0,298.6 434.3,300.5 C436.6,302.4 435.7,303.2 439.8,307.3 C443.9,311.4 453.2,319.6 458.9,325.1 C464.6,330.6 471.4,337.7 473.9,340.2" fill="none" stroke="#141414" stroke-width="1.35" />
<path d="M473.9,340.2 L495.0,351.1 L528.0,368.8 L606.0,408.8 L632.5,423.8 L634.2,422.6" fill="none" stroke="#141414" stroke-width="1.35" />
<path d="M409.0,290.3 L409.7,293.7 L412.4,293.0 L414.5,290.3" fill="none" stroke="#141414" stroke-width="1.35" />
<path d="M409.0,290.3 L405.6,295.0 L402.2,301.9 L402.9,306.0 L400.8,309.4 L398.1,310.1 L396.0,316.2 L398.8,317.6" fill="none" stroke="#141414" stroke-width="1.35" />
<path d="M400.8,310.1 C402.9,310.8 412.8,314.1 416.5,315.5 C420.3,317.0 424.3,318.5 428.8,321.0 C433.4,323.6 445.2,331.2 450.7,334.7 C456.2,338.2 463.9,343.3 469.8,347.0 C475.8,350.6 491.7,360.0 495.0,362.0" fill="none" stroke="#141414" stroke-width="1.35" />
<path d="M495.0,362.0 L606.0,416.8 L600.0,415.0 L630.1,429.4 L639.6,432.8 L685.5,449.9" fill="none" stroke="#141414" stroke-width="1.35" />
<path d="M437.0,306.7 L428.8,318.3" fill="none" stroke="#141414" stroke-width="1.35" />
<path d="M473.9,340.2 L469.8,347.0" fill="none" stroke="#141414" stroke-width="1.35" />
<path d="M400.8,316.9 C401.3,315.5 402.8,316.1 404.9,317.2 C407.0,318.3 408.2,319.4 409.7,321.7 C411.2,324.0 411.8,325.7 411.3,327.2 C410.9,328.6 409.6,328.8 407.6,327.9 C405.7,326.9 404.4,325.6 402.9,323.1 C401.3,320.5 400.3,318.3 400.8,316.9 Z" fill="none" stroke="#141414" stroke-width="1.35" />
<path d="M411.1,327.9 C412.8,328.8 416.9,331.0 420.6,333.0 C424.4,335.1 428.6,336.7 431.6,338.8 C434.6,340.8 435.5,342.5 437.0,344.3 C438.5,346.0 438.5,346.9 439.8,348.4 C441.0,349.8 442.1,351.4 443.9,352.2 C445.6,352.9 448.0,351.8 449.3,352.5 C450.7,353.1 450.3,354.6 451.4,355.9 C452.5,357.1 453.9,358.7 455.5,359.3 C457.1,359.9 458.4,359.0 460.3,359.3 C462.2,359.6 463.7,359.8 465.7,360.7 C467.8,361.5 469.5,363.3 471.2,364.1 C473.0,364.9 473.7,363.8 475.3,365.2 C476.8,366.5 477.6,369.7 479.7,371.3 C481.8,372.9 484.3,373.1 486.7,373.9 C489.1,374.8 489.5,374.1 492.9,375.7 C496.2,377.3 502.1,380.5 505.2,382.7 C508.2,385.0 507.0,386.2 509.6,388.0 C512.1,389.8 515.8,391.1 519.2,392.4 C522.6,393.7 521.6,392.0 528.0,395.0 C534.5,398.1 549.1,405.9 554.4,409.1 C559.7,412.3 555.4,411.5 557.0,412.6 C558.6,413.7 560.7,414.4 563.2,415.3 C565.6,416.1 566.0,415.2 570.2,417.0 C574.4,418.8 582.1,422.7 586.0,424.9 C589.9,427.2 588.7,428.0 591.3,429.3 C593.9,430.6 596.5,430.7 600.1,432.0 C603.6,433.2 607.4,434.7 610.6,436.3 C613.8,438.0 614.8,439.3 617.7,440.7 C620.6,442.2 623.9,443.1 626.4,444.3 C629.0,445.4 629.5,445.9 631.7,446.9 C634.0,447.9 636.8,449.0 638.7,449.5 C640.7,450.1 641.8,449.9 642.5,450.0" fill="none" stroke="#141414" stroke-width="1.35" />
<ellipse cx="444.6" cy="349.7" rx="2.0" ry="1.4" transform="rotate(25.0 444.6 349.7)" fill="none" stroke="#141414" stroke-width="1.1"/>
<ellipse cx="456.4" cy="356.8" rx="2.0" ry="1.4" transform="rotate(25.0 456.4 356.8)" fill="none" stroke="#141414" stroke-width="1.1"/>
<ellipse cx="482.3" cy="371.3" rx="2.2" ry="1.5" transform="rotate(25.0 482.3 371.3)" fill="none" stroke="#141414" stroke-width="1.2"/>
<ellipse cx="513.9" cy="389.8" rx="2.2" ry="1.5" transform="rotate(25.0 513.9 389.8)" fill="none" stroke="#141414" stroke-width="1.2"/>
<ellipse cx="559.6" cy="411.7" rx="2.2" ry="1.5" transform="rotate(25.0 559.6 411.7)" fill="none" stroke="#141414" stroke-width="1.2"/>
<ellipse cx="593.9" cy="428.4" rx="2.2" ry="1.5" transform="rotate(25.0 593.9 428.4)" fill="none" stroke="#141414" stroke-width="1.2"/>
<ellipse cx="622.0" cy="440.7" rx="2.2" ry="1.5" transform="rotate(25.0 622.0 440.7)" fill="none" stroke="#141414" stroke-width="1.2"/>
<ellipse cx="635.2" cy="447.4" rx="2.2" ry="1.5" transform="rotate(25.0 635.2 447.4)" fill="none" stroke="#141414" stroke-width="1.2"/>
<path d="M398.8,317.6 C398.0,318.1 396.1,317.8 393.3,321.0 C390.5,324.2 381.8,336.0 377.6,341.5 C373.3,347.1 363.2,359.6 361.2,362.7 C359.1,365.8 360.6,364.2 361.8,364.8 C363.1,365.4 368.7,367.0 370.7,367.1 C372.7,367.2 375.1,366.4 376.9,365.6 C378.7,364.8 382.8,362.7 384.4,360.9 C386.0,359.2 388.1,354.7 389.2,352.5 C390.3,350.3 392.1,345.6 392.6,344.5" fill="none" stroke="#141414" stroke-width="1.35" />
<path d="M392.6,344.5 L395.3,343.2 L394.6,340.2 L396.0,336.3 L405.6,330.0 L409.7,327.9" fill="none" stroke="#141414" stroke-width="1.35" />
<path d="M402.2,323.8 L370.7,366.4" fill="none" stroke="#141414" stroke-width="1.35" />
<ellipse cx="415.2" cy="305.3" rx="4.0" ry="2.4" transform="rotate(-8.0 415.2 305.3)" fill="none" stroke="#141414" stroke-width="1.35"/>
<ellipse cx="426.1" cy="298.5" rx="1.6" ry="1.8" transform="rotate(0.0 426.1 298.5)" fill="none" stroke="#141414" stroke-width="1.35"/>
<path d="M443.9,320.3 L446.9,316.2 L451.0,317.6 L454.8,322.7 L453.4,328.7 L450.7,325.1 L448.0,321.0 L443.9,320.3" fill="none" stroke="#141414" stroke-width="1.3" />
<path d="M448.0,319.0 L451.4,320.3 L450.7,323.5 L448.7,321.7" fill="none" stroke="#141414" stroke-width="1.0" />
<path d="M542.1,381.9 L546.5,376.6 L551.7,377.5 L555.3,388.0 L552.6,388.9 L550.0,381.9 L544.7,381.0 L542.1,381.9" fill="none" stroke="#141414" stroke-width="1.4" />
<path d="M634.2,422.6 L641.0,423.2 L654.7,426.0" fill="none" stroke="#141414" stroke-width="1.35" />
<path d="M668.4,429.8 L706.6,441.0 L718.3,447.2" fill="none" stroke="#141414" stroke-width="1.35" />
<path d="M718.3,447.2 L716.2,451.3 L709.4,455.4" fill="none" stroke="#141414" stroke-width="1.35" />
<path d="M709.4,455.4 C708.5,456.5 708.1,457.7 706.0,459.5 C703.8,461.3 702.9,460.2 701.2,462.2 C699.5,464.2 699.4,465.0 699.5,467.0 C699.7,469.0 702.2,468.3 701.9,469.7 C701.6,471.2 700.3,471.4 698.4,472.5 C696.6,473.6 695.8,472.4 695.0,473.8 C694.3,475.3 695.9,476.1 695.7,477.9 C695.5,479.8 694.7,479.9 694.3,480.7" fill="none" stroke="#141414" stroke-width="1.35" />
<path d="M636.2,423.2 L632.1,430.8" fill="none" stroke="#141414" stroke-width="1.35" />
<path d="M641.0,423.5 L636.2,431.7" fill="none" stroke="#141414" stroke-width="1.35" />
<path d="M694.3,480.7 L664.9,520.3 L650.6,510.1 L652.6,506.6 L676.6,476.6" fill="none" stroke="#141414" stroke-width="1.35" />
<path d="M676.6,476.6 C677.0,475.5 679.0,473.6 678.6,471.1 C678.2,468.6 677.9,467.0 674.5,464.3 C671.1,461.5 667.7,460.0 661.5,457.4 C655.4,454.8 647.9,452.4 643.8,451.3 C639.6,450.2 642.0,451.8 641.0,452.0 C640.1,452.1 639.4,452.2 639.0,452.2" fill="none" stroke="#141414" stroke-width="1.35" />
<path d="M652.6,510.7 L659.5,506.6 L661.5,512.1 L664.9,510.1 L682.0,487.5 L680.0,480.7 L685.5,473.1 L688.9,474.5 L684.1,478.6 L688.9,484.1 L694.3,479.3" fill="none" stroke="#141414" stroke-width="1.35" />
<ellipse cx="697.1" cy="452.0" rx="3.7" ry="2.5" transform="rotate(-10.0 697.1 452.0)" fill="none" stroke="#141414" stroke-width="1.35"/>
<ellipse cx="673.8" cy="484.1" rx="2.3" ry="1.5" transform="rotate(-5.0 673.8 484.1)" fill="none" stroke="#141414" stroke-width="1.35"/>
<ellipse cx="671.1" cy="496.8" rx="2.3" ry="1.6" transform="rotate(-5.0 671.1 496.8)" fill="none" stroke="#141414" stroke-width="1.35"/>
<path d="M655.4,431.7 L658.1,425.7 L664.3,425.3 L668.4,429.4 L668.4,435.8 L666.3,434.9 L664.3,429.4 L660.8,429.0 L656.7,432.3 L655.4,431.7" fill="none" stroke="#141414" stroke-width="1.3" />
<path d="M660.8,426.0 L661.5,429.0" fill="none" stroke="#141414" stroke-width="1.0" />
<path d="M545.0,380.0 L551.2,381.2 L554.5,387.0 L552.0,387.5 L549.5,383.0" fill="none" stroke="#141414" stroke-width="1.2" />
<path d="M454.8,405.6 C455.8,405.7 457.6,405.0 460.3,406.2 C463.0,407.5 466.8,409.6 471.2,413.0 C475.7,416.3 480.9,421.2 486.9,426.2 C492.9,431.3 502.8,439.8 507.2,443.4 C511.6,447.0 512.4,447.1 513.4,447.8" fill="none" stroke="#141414" stroke-width="1.35" />
<path d="M513.4,447.8 C513.8,448.2 513.8,449.2 515.0,450.0 C516.2,450.8 518.1,450.5 519.7,452.0 C521.2,453.5 522.2,456.4 522.8,457.5" fill="none" stroke="#141414" stroke-width="1.35" />
<path d="M522.8,457.5 L550.0,471.6 L587.5,491.6 L665.9,532.0" fill="none" stroke="#141414" stroke-width="1.35" />
<path d="M665.9,532.0 C666.8,532.2 669.6,532.9 671.4,533.1 C673.2,533.4 676.0,533.5 676.9,533.6" fill="none" stroke="#141414" stroke-width="1.35" />
<path d="M676.9,533.6 L745.6,553.9 L758.1,559.4" fill="none" stroke="#141414" stroke-width="1.35" />
<ellipse cx="676.1" cy="535.3" rx="1.6" ry="1.3" transform="rotate(0.0 676.1 535.3)" fill="none" stroke="#141414" stroke-width="1.1"/>
<ellipse cx="676.2" cy="534.5" rx="1.6" ry="1.3" transform="rotate(0.0 676.2 534.5)" fill="none" stroke="#141414" stroke-width="1.1"/>
<circle cx="515.0" cy="451.6" r="0.8" fill="none" stroke="#141414" stroke-width="1.0"/>
<path d="M458.8,410.6 C460.1,411.4 463.4,411.9 466.6,415.3 C469.7,418.7 472.6,425.6 477.5,430.9 C482.4,436.3 490.5,442.4 496.2,447.3 C502.0,452.3 508.4,457.9 511.9,460.6 C515.4,463.4 516.4,463.2 517.3,463.8" fill="none" stroke="#141414" stroke-width="1.35" />
<path d="M522.8,465.6 L550.0,480.2 L587.2,500.2 L673.8,541.9 L730.0,557.8 L739.4,559.4" fill="none" stroke="#141414" stroke-width="1.35" />
<path d="M454.8,405.6 L450.2,410.6 L448.6,421.6 L433.8,445.0 L427.5,451.2 L421.2,460.6 L418.1,467.7 L413.4,471.6 L404.8,471.6 L399.4,478.6" fill="none" stroke="#141414" stroke-width="1.35" />
<path d="M450.9,410.6 L458.8,410.6" fill="none" stroke="#141414" stroke-width="1.35" />
<path d="M399.4,478.6 C401.2,479.4 407.8,483.5 413.4,484.8 C419.1,486.2 435.5,487.4 441.6,488.8 C447.6,490.1 451.0,491.7 458.8,495.0 C466.5,498.3 491.2,510.0 499.4,513.8 C507.5,517.5 517.2,522.1 520.0,523.4" fill="none" stroke="#141414" stroke-width="1.35" />
<path d="M404.8,471.6 C405.4,472.0 406.6,473.6 408.8,474.7 C410.9,475.7 416.9,477.9 421.2,479.4 C425.6,480.8 435.9,484.4 441.6,485.6 C447.2,486.9 459.5,487.9 463.4,488.8 C467.4,489.6 470.2,491.7 471.2,492.2" fill="none" stroke="#141414" stroke-width="1.35" />
<path d="M413.4,471.6 L416.6,475.5 L421.2,479.4" fill="none" stroke="#141414" stroke-width="1.35" />
<path d="M407.2,472.3 L415.0,476.2" fill="none" stroke="#141414" stroke-width="1.0" />
<path d="M458.8,495.0 L461.9,488.8 L461.1,484.8" fill="none" stroke="#141414" stroke-width="1.35" />
<path d="M450.9,421.6 C450.8,419.7 451.6,416.0 452.5,414.5 C453.4,413.1 455.4,412.7 456.4,413.0 C457.4,413.2 458.6,414.1 458.8,416.1 C458.9,418.0 458.1,423.1 457.2,424.7 C456.3,426.2 454.3,426.0 453.3,425.5 C452.2,424.9 451.1,423.4 450.9,421.6 Z" fill="none" stroke="#141414" stroke-width="1.35" />
<circle cx="455.6" cy="416.9" r="0.9" fill="none" stroke="#141414" stroke-width="1.0"/>
<path d="M441.6,448.1 C443.8,444.9 449.3,437.9 452.5,435.3 C455.7,432.7 453.0,431.4 458.8,434.1 C464.5,436.7 478.7,445.7 483.8,449.7 C488.8,453.7 487.0,452.7 486.1,455.9 C485.2,459.1 481.5,464.7 479.1,467.2 C476.6,469.7 479.4,471.2 472.8,469.4 C466.2,467.6 449.1,460.5 443.1,457.5 C437.2,454.5 440.8,454.8 440.5,453.1 C440.2,451.4 439.4,451.4 441.6,448.1 Z" fill="none" stroke="#141414" stroke-width="1.35" />
<path d="M441.9,459.1 C442.2,459.5 438.6,459.1 443.9,461.4 C449.2,463.8 467.5,471.7 473.6,473.1 C479.7,474.5 479.2,470.7 480.6,469.7 C482.1,468.7 481.9,467.6 482.2,467.2" fill="none" stroke="#141414" stroke-width="1.35" />
<path d="M448.6,421.6 L463.4,428.6 L477.5,435.9 L488.4,444.7" fill="none" stroke="#141414" stroke-width="1.35" />
<path d="M466.6,415.3 L477.5,435.9" fill="none" stroke="#141414" stroke-width="1.35" />
<path d="M433.8,445.0 L441.6,448.9" fill="none" stroke="#141414" stroke-width="1.35" />
<path d="M427.5,451.2 L441.6,458.3" fill="none" stroke="#141414" stroke-width="1.35" />
<path d="M421.2,460.6 L435.3,465.3" fill="none" stroke="#141414" stroke-width="1.35" />
<path d="M444.7,470.0 L457.2,475.5" fill="none" stroke="#141414" stroke-width="1.35" />
<path d="M466.6,479.4 L486.9,487.2" fill="none" stroke="#141414" stroke-width="1.35" />
<circle cx="439.2" cy="468.1" r="4.6" fill="none" stroke="#141414" stroke-width="1.5"/>
<circle cx="461.6" cy="478.8" r="4.8" fill="none" stroke="#141414" stroke-width="1.5"/>
<path d="M491.6,459.4 C492.4,458.3 496.2,456.2 496.6,457.2 C496.9,458.1 495.2,464.4 494.4,466.9 C493.5,469.3 490.9,475.7 490.0,476.6 C489.1,477.5 487.5,475.3 487.5,473.9 C487.5,472.5 489.5,467.2 490.0,465.3 C490.5,463.5 490.7,460.4 491.6,459.4 Z" fill="none" stroke="#141414" stroke-width="1.2" />
<path d="M493.4,460.6 C493.0,461.9 491.5,466.4 490.8,468.4 C490.1,470.5 489.6,472.3 489.4,473.1" fill="none" stroke="#141414" stroke-width="1.0" />
<path d="M499.4,467.2 C500.4,465.6 504.4,463.6 505.6,463.8 C506.9,463.9 509.2,466.3 509.1,468.1 C509.0,469.9 506.2,475.4 504.8,477.8 C503.5,480.2 499.8,486.1 498.1,487.2 C496.5,488.3 492.9,487.0 491.9,486.2 C490.8,485.5 489.2,482.5 490.0,481.2 C490.8,480.0 496.6,478.0 497.8,476.2 C499.0,474.5 498.4,468.8 499.4,467.2 Z" fill="none" stroke="#141414" stroke-width="1.4" />
<path d="M501.2,470.0 C502.0,469.7 503.8,468.4 504.8,468.4 C505.9,468.4 507.8,467.0 506.4,470.0 C505.0,473.0 500.5,480.6 497.8,483.3 C495.2,485.9 494.1,483.3 493.1,483.3" fill="none" stroke="#141414" stroke-width="1.1" />
<path d="M516.6,468.8 C517.6,466.8 520.4,465.9 521.2,466.9 C522.1,467.8 523.5,473.7 523.1,476.2 C522.7,478.8 519.5,484.8 518.1,487.2 C516.7,489.6 513.7,493.8 512.2,495.0 C510.6,496.2 507.0,497.2 505.9,496.9 C504.9,496.5 503.1,494.0 504.1,492.2 C505.0,490.4 511.9,485.5 513.4,482.5 C515.0,479.5 515.6,470.7 516.6,468.8 Z" fill="none" stroke="#141414" stroke-width="1.4" />
<path d="M508.8,470.0 L515.0,472.3" fill="none" stroke="#141414" stroke-width="1.35" />
<path d="M505.6,479.4 L510.3,481.7" fill="none" stroke="#141414" stroke-width="1.35" />
<path d="M523.1,476.2 L527.5,488.8 L524.4,496.6 L515.0,499.7 L505.6,496.9" fill="none" stroke="#141414" stroke-width="1.35" />
<path d="M542.8,480.9 C542.8,481.7 543.3,487.2 543.1,488.8 C542.9,490.3 541.8,495.0 540.8,496.6 C539.8,498.2 533.8,503.9 533.0,504.7" fill="none" stroke="#141414" stroke-width="6.3" />
<path d="M542.8,480.9 C542.8,481.7 543.3,487.2 543.1,488.8 C542.9,490.3 541.8,495.0 540.8,496.6 C539.8,498.2 533.8,503.9 533.0,504.7" fill="none" stroke="#ffffff" stroke-width="3.6" />
<path d="M458.8,482.5 L471.2,488.8 L499.4,502.8 L520.0,513.6" fill="none" stroke="#141414" stroke-width="1.35" />
<path d="M461.1,485.3 L471.2,491.1 L499.4,505.2 L520.0,516.1" fill="none" stroke="#141414" stroke-width="1.35" />
<ellipse cx="501.7" cy="501.2" rx="2.0" ry="2.6" transform="rotate(25.0 501.7 501.2)" fill="none" stroke="#141414" stroke-width="1.3"/>
<path d="M541.9,480.9 C541.9,481.5 541.9,485.7 541.9,486.9 C541.8,488.1 542.0,491.3 541.2,493.1 C540.5,494.9 535.1,503.8 534.4,505.0" fill="none" stroke="#141414" stroke-width="6.3" />
<path d="M541.9,480.9 C541.9,481.5 541.9,485.7 541.9,486.9 C541.8,488.1 542.0,491.3 541.2,493.1 C540.5,494.9 535.1,503.8 534.4,505.0" fill="none" stroke="#ffffff" stroke-width="3.6" />
<path d="M568.8,495.0 C568.7,495.6 568.5,499.8 568.4,500.9 C568.3,502.1 568.6,504.6 567.7,506.4 C566.8,508.2 560.2,517.8 559.4,519.1" fill="none" stroke="#141414" stroke-width="6.3" />
<path d="M568.8,495.0 C568.7,495.6 568.5,499.8 568.4,500.9 C568.3,502.1 568.6,504.6 567.7,506.4 C566.8,508.2 560.2,517.8 559.4,519.1" fill="none" stroke="#ffffff" stroke-width="3.6" />
<path d="M608.8,515.0 C608.7,515.8 608.7,521.3 608.6,522.8 C608.5,524.3 608.7,528.1 607.8,529.8 C606.9,531.6 600.2,539.0 599.4,540.0" fill="none" stroke="#141414" stroke-width="6.3" />
<path d="M608.8,515.0 C608.7,515.8 608.7,521.3 608.6,522.8 C608.5,524.3 608.7,528.1 607.8,529.8 C606.9,531.6 600.2,539.0 599.4,540.0" fill="none" stroke="#ffffff" stroke-width="3.6" />
<path d="M640.0,531.4 C640.0,532.3 639.8,538.4 639.7,540.0 C639.5,541.6 639.4,545.4 638.4,547.0 C637.5,548.6 631.1,555.0 630.3,555.9" fill="none" stroke="#141414" stroke-width="6.3" />
<path d="M640.0,531.4 C640.0,532.3 639.8,538.4 639.7,540.0 C639.5,541.6 639.4,545.4 638.4,547.0 C637.5,548.6 631.1,555.0 630.3,555.9" fill="none" stroke="#ffffff" stroke-width="3.6" />
<path d="M520.0,473.6 L538.8,483.0" fill="none" stroke="#141414" stroke-width="1.35" />
<path d="M545.8,486.9 L565.3,497.0" fill="none" stroke="#141414" stroke-width="1.35" />
<path d="M572.3,500.2 L582.5,505.6" fill="none" stroke="#141414" stroke-width="1.35" />
<path d="M612.2,520.5 L636.4,533.0" fill="none" stroke="#141414" stroke-width="1.35" />
<path d="M643.4,536.1 L680.0,554.8" fill="none" stroke="#141414" stroke-width="1.35" />
<path d="M520.0,482.2 L535.6,490.0" fill="none" stroke="#141414" stroke-width="1.35" />
<path d="M611.4,527.5 L636.4,540.0" fill="none" stroke="#141414" stroke-width="1.35" />
<path d="M642.7,543.1 L680.0,561.9" fill="none" stroke="#141414" stroke-width="1.35" />
<path d="M520.0,521.4 C525.0,523.9 550.6,536.6 557.5,540.0 C564.4,543.4 565.7,543.7 571.6,546.6 C577.4,549.4 593.5,557.0 601.2,561.2 C609.0,565.5 624.4,575.2 629.4,578.4 C634.4,581.6 636.6,584.3 638.8,585.3 C640.9,586.3 641.0,583.8 645.6,585.9 C650.3,588.1 668.8,598.4 673.8,601.6 C678.8,604.7 680.6,606.5 683.1,609.4 C685.6,612.3 689.6,620.1 692.5,623.4 C695.4,626.8 701.8,631.9 705.0,634.4 C708.2,636.9 715.2,641.1 716.7,642.2" fill="none" stroke="#141414" stroke-width="1.35" />
<path d="M520.0,516.6 C523.8,518.4 541.9,527.2 548.1,530.3 C554.4,533.4 561.9,537.6 566.9,540.0 C571.9,542.4 581.0,545.8 585.6,548.1 C590.2,550.4 595.4,553.7 601.2,557.2 C607.1,560.7 625.6,572.1 629.4,574.4" fill="none" stroke="#141414" stroke-width="1.35" />
<path d="M520.0,514.1 L543.4,526.2" fill="none" stroke="#141414" stroke-width="1.35" />
<ellipse cx="552.8" cy="529.8" rx="2.3" ry="1.8" transform="rotate(20.0 552.8 529.8)" fill="none" stroke="#141414" stroke-width="1.2"/>
<ellipse cx="571.6" cy="538.4" rx="2.3" ry="1.8" transform="rotate(20.0 571.6 538.4)" fill="none" stroke="#141414" stroke-width="1.2"/>
<ellipse cx="591.9" cy="549.4" rx="2.3" ry="1.8" transform="rotate(20.0 591.9 549.4)" fill="none" stroke="#141414" stroke-width="1.2"/>
<path d="M573.9,521.2 C574.4,518.6 574.5,515.8 576.2,513.4 C578.0,511.1 579.1,509.5 582.5,509.5 C585.9,509.5 590.5,511.6 593.4,513.4 C596.4,515.3 597.0,516.1 597.3,518.9 C597.7,521.7 596.7,524.8 595.0,527.5 C593.3,530.2 591.9,531.4 588.8,532.2 C585.6,533.0 582.3,532.5 579.4,531.4 C576.4,530.3 575.0,528.8 573.9,526.7 C572.8,524.7 573.4,523.9 573.9,521.2 Z" fill="none" stroke="#141414" stroke-width="1.3" />
<path d="M583.3,507.2 C583.4,505.8 583.8,504.8 584.8,504.1 C585.9,503.3 587.5,503.0 588.8,503.3 C590.0,503.6 590.5,503.8 591.1,505.6 C591.7,507.5 592.3,511.1 591.6,512.7 C590.8,514.2 588.7,513.8 587.2,513.4 C585.7,513.1 584.8,512.3 584.1,511.1 C583.3,509.8 583.1,508.6 583.3,507.2 Z" fill="none" stroke="#141414" stroke-width="1.5" />
<path d="M577.0,514.2 L588.8,518.1 L593.4,515.0" fill="none" stroke="#141414" stroke-width="1.3" />
<path d="M577.8,518.1 L588.8,522.0 L595.0,518.9" fill="none" stroke="#141414" stroke-width="1.1" />
<path d="M570.8,510.3 L574.7,508.8 L571.6,519.7 L568.4,521.2 L570.8,510.3" fill="none" stroke="#141414" stroke-width="1.2" />
<path d="M595.0,521.2 L600.5,519.7 L598.1,529.8 L594.7,532.2" fill="none" stroke="#141414" stroke-width="1.2" />
<path d="M565.3,527.5 L573.1,529.1" fill="none" stroke="#141414" stroke-width="1.4" />
<path d="M574.7,532.2 L573.1,536.1 L577.0,536.9 L578.6,533.4" fill="none" stroke="#141414" stroke-width="1.2" />
<path d="M584.8,533.0 L585.6,539.2 L588.4,538.8 L587.5,532.5" fill="none" stroke="#141414" stroke-width="1.2" />
<ellipse cx="582.5" cy="523.6" rx="1.2" ry="1.2" transform="rotate(0.0 582.5 523.6)" fill="#333" stroke="#141414" stroke-width="1.0"/>
<path d="M631.7,561.1 L643.4,552.5 L649.7,570.5 L645.0,572.8 L631.7,565.0 L631.7,561.1" fill="none" stroke="#141414" stroke-width="1.35" />
<path d="M674.2,545.3 C674.2,546.1 674.0,551.6 673.8,553.1 C673.5,554.6 673.7,557.2 671.9,560.2 C670.1,563.1 657.5,580.3 655.9,582.5" fill="none" stroke="#141414" stroke-width="6.3" />
<path d="M674.2,545.3 C674.2,546.1 674.0,551.6 673.8,553.1 C673.5,554.6 673.7,557.2 671.9,560.2 C670.1,563.1 657.5,580.3 655.9,582.5" fill="none" stroke="#ffffff" stroke-width="3.6" />
<path d="M656.6,582.5 L658.4,580.0" fill="none" stroke="#141414" stroke-width="1.0" />
<path d="M758.1,559.4 L753.4,568.8 L750.3,576.6 L739.4,592.2 L723.8,615.6 L717.5,629.7 L723.0,635.9 L716.7,642.2" fill="none" stroke="#141414" stroke-width="1.35" />
<path d="M629.4,574.4 C632.6,576.8 640.8,584.0 648.8,589.1 C656.7,594.2 670.6,600.8 676.9,605.0 C683.1,609.2 683.1,610.8 686.2,614.4 C689.4,618.0 692.0,623.4 695.6,626.6 C699.3,629.7 704.0,631.8 708.1,633.1 C712.3,634.5 718.5,634.4 720.6,634.7" fill="none" stroke="#141414" stroke-width="1.35" />
<path d="M698.8,620.3 C699.5,621.4 701.4,625.0 703.4,626.6 C705.5,628.1 708.9,629.2 711.2,629.7 C713.6,630.2 716.5,629.7 717.5,629.7" fill="none" stroke="#141414" stroke-width="1.35" />
<path d="M676.9,546.9 L726.9,559.4" fill="none" stroke="#141414" stroke-width="1.35" />
<path d="M641.7,553.9 L655.0,581.2" fill="none" stroke="#141414" stroke-width="1.35" />
<path d="M643.3,553.9 L670.9,553.1 L689.4,576.6 L698.8,593.8 L705.0,600.0" fill="none" stroke="#141414" stroke-width="1.35" />
<path d="M689.4,576.6 L711.2,575.0" fill="none" stroke="#141414" stroke-width="1.35" />
<path d="M630.0,565.6 L653.4,579.7" fill="none" stroke="#141414" stroke-width="1.35" />
<path d="M659.7,584.4 L705.0,609.4" fill="none" stroke="#141414" stroke-width="1.35" />
<path d="M636.2,589.1 L633.1,593.8" fill="none" stroke="#141414" stroke-width="1.0" />
<path d="M711.2,571.9 L719.1,564.1 L723.8,564.8" fill="none" stroke="#141414" stroke-width="1.35" />
<path d="M733.9,568.8 L739.4,570.3 L742.5,575.0 L731.6,584.4 L723.8,584.4 L711.2,575.0 L711.2,571.9" fill="none" stroke="#141414" stroke-width="1.35" />
<path d="M722.2,570.3 C722.7,569.5 724.3,570.5 725.6,568.8 C726.9,567.0 728.6,561.0 730.0,559.7 C731.4,558.3 733.4,559.1 733.9,560.6 C734.4,562.1 734.2,566.3 733.1,568.8 C732.0,571.2 729.0,574.5 727.2,575.3 C725.4,576.1 723.3,574.6 722.5,573.8 C721.7,572.9 721.7,571.1 722.2,570.3 Z" fill="none" stroke="#141414" stroke-width="1.4" />
<ellipse cx="725.3" cy="572.2" rx="2.4" ry="1.5" transform="rotate(-20.0 725.3 572.2)" fill="none" stroke="#141414" stroke-width="1.0"/>
<path d="M741.7,559.4 L745.6,556.2 L755.0,560.2" fill="none" stroke="#141414" stroke-width="1.35" />
<path d="M741.7,559.4 L742.5,568.8 L746.4,573.8 L750.3,576.6" fill="none" stroke="#141414" stroke-width="1.35" />
<path d="M746.4,573.8 L749.5,565.6 L744.8,564.1 L742.8,568.8" fill="none" stroke="#141414" stroke-width="1.35" />
<path d="M739.4,559.4 L741.7,559.4" fill="none" stroke="#141414" stroke-width="1.35" />
<path d="M734.4,560.2 L735.0,568.8 L739.4,570.6" fill="none" stroke="#141414" stroke-width="1.35" />
<ellipse cx="746.4" cy="568.3" rx="1.6" ry="0.9" transform="rotate(-60.0 746.4 568.3)" fill="none" stroke="#141414" stroke-width="1.0"/>
<path d="M750.3,576.6 L737.8,593.8 L736.2,600.0" fill="none" stroke="#141414" stroke-width="1.35" />
<path d="M744.1,581.2 L725.6,609.4" fill="none" stroke="#141414" stroke-width="1.35" />
<path d="M739.4,592.2 L730.0,596.9 L723.8,609.4" fill="none" stroke="#141414" stroke-width="1.35" />
<path d="M706.6,600.0 C707.5,597.4 709.4,594.7 711.2,593.8 C713.1,592.8 715.7,593.5 717.5,594.5 C719.3,595.6 721.1,597.5 722.2,600.0 C723.2,602.5 723.8,606.0 723.8,609.4 C723.8,612.8 723.2,618.2 722.2,620.3 C721.1,622.4 718.8,622.7 717.5,621.9 C716.2,621.1 715.9,616.5 714.4,615.6 C712.8,614.7 709.6,617.4 708.1,616.4 C706.7,615.4 706.0,612.1 705.8,609.4 C705.5,606.6 705.7,602.6 706.6,600.0 Z" fill="none" stroke="#141414" stroke-width="1.4" />
<path d="M711.2,594.5 L708.9,609.4 L709.7,616.4" fill="none" stroke="#141414" stroke-width="1.35" />
<path d="M715.2,600.0 L714.4,615.6" fill="none" stroke="#141414" stroke-width="1.35" />
<path d="M717.5,600.0 L723.8,603.1" fill="none" stroke="#141414" stroke-width="1.35" />
<ellipse cx="712.5" cy="598.1" rx="1.0" ry="1.8" transform="rotate(0.0 712.5 598.1)" fill="none" stroke="#141414" stroke-width="1.0"/>
<path d="M719.8,603.1 L722.2,601.9" fill="none" stroke="#141414" stroke-width="1.4" />
<path d="M830.9,351.1 L854.6,326.8 L877.4,305.6 L902.0,287.4" fill="none" stroke="#141414" stroke-width="1.2" />
<path d="M838.5,349.6 L858.4,329.1 L878.9,308.8 L901.0,290.1" fill="none" stroke="#141414" stroke-width="1.2" />
<path d="M878.9,308.8 C879.3,308.3 881.0,305.6 882.1,305.1 C883.2,304.5 881.2,301.8 886.8,304.5 C892.5,307.1 915.1,319.6 924.7,324.9 C934.3,330.3 954.0,341.5 958.8,344.3 C963.7,347.0 960.8,345.6 961.1,345.8" fill="none" stroke="#141414" stroke-width="1.2" />
<path d="M879.6,310.2 C883.1,312.1 897.2,320.1 905.8,324.9 C914.3,329.7 936.8,342.6 943.7,346.2 C950.6,349.8 955.5,351.1 957.3,351.8" fill="none" stroke="#141414" stroke-width="1.2" />
<path d="M831.9,351.1 C831.7,351.6 830.4,353.0 830.8,354.3 C831.1,355.6 830.1,356.2 833.8,359.0 C837.5,361.9 845.8,366.9 852.7,371.4 C859.7,375.8 868.5,381.4 875.5,385.6 C882.4,389.8 888.4,393.3 894.4,396.6 C900.4,399.8 906.7,403.4 911.5,405.3 C916.2,407.2 920.0,407.6 922.8,407.9 C925.7,408.3 926.8,408.0 928.5,407.6 C930.3,407.1 932.5,405.8 933.3,405.5" fill="none" stroke="#141414" stroke-width="1.2" />
<path d="M838.5,350.0 C841.8,352.1 850.4,357.5 858.4,362.8 C866.5,368.1 878.3,375.5 886.8,381.8 C895.4,388.1 904.5,396.9 909.6,400.7 C914.7,404.6 916.2,404.2 917.5,404.9" fill="none" stroke="#141414" stroke-width="1.2" />
<path d="M933.3,405.5 L943.7,381.8 L960.7,345.8" fill="none" stroke="#141414" stroke-width="1.2" />
<path d="M943.3,406.8 L951.3,383.7 L962.6,359.0 L966.8,348.1" fill="none" stroke="#141414" stroke-width="1.2" />
<path d="M961.1,345.4 L992.6,319.6" fill="none" stroke="#141414" stroke-width="1.2" />
<path d="M962.6,342.0 L991.0,320.8" fill="none" stroke="#141414" stroke-width="1.2" />
<path d="M963.8,346.2 L996.4,324.2" fill="none" stroke="#141414" stroke-width="1.2" />
<path d="M966.8,348.1 L996.7,327.2" fill="none" stroke="#141414" stroke-width="1.2" />
<path d="M918.1,286.1 C917.1,286.8 910.5,290.7 909.6,291.8 C908.7,292.9 907.4,293.4 910.5,295.6 C913.6,297.7 930.0,306.7 936.1,310.2 C942.2,313.6 958.5,323.1 962.6,324.9 C966.7,326.8 967.7,327.3 971.2,325.9 C974.6,324.5 989.4,314.7 992.0,312.6 C994.6,310.5 993.8,308.9 993.3,307.9 C992.9,306.9 991.9,306.3 988.2,304.1 C984.5,301.9 964.8,290.7 961.7,288.9" fill="none" stroke="#141414" stroke-width="1.2" />
<path d="M955.0,378.9 C955.7,377.1 959.4,366.2 960.7,362.8 C962.1,359.5 964.4,353.1 966.8,350.5 C969.2,347.9 978.1,342.8 981.6,340.5 C985.1,338.2 994.5,331.9 996.7,331.0 C998.9,330.1 999.6,330.5 1000.5,332.9 C1001.4,335.3 1003.5,347.4 1004.3,351.5 C1005.1,355.5 1007.2,365.2 1007.3,367.8 C1007.5,370.4 1007.2,372.0 1005.3,373.8 C1003.4,375.6 994.3,381.3 991.0,383.3 C987.8,385.3 978.7,390.3 977.0,391.3" fill="none" stroke="#141414" stroke-width="1.2" />
<path d="M969.3,353.4 C970.7,352.3 978.6,346.5 981.6,344.3 C984.5,342.0 992.7,335.1 994.5,334.0 C996.2,333.0 996.0,333.1 996.7,335.4 C997.4,337.6 999.8,349.5 1000.5,353.4 C1001.3,357.2 1003.1,366.0 1003.2,368.1 C1003.3,370.2 1002.9,370.1 1001.5,371.4 C1000.1,372.6 993.6,377.2 991.0,378.9 C988.5,380.6 981.0,385.1 979.7,386.0" fill="none" stroke="#141414" stroke-width="1.2" />
<path d="M955.0,378.9 C954.9,380.7 954.7,385.7 954.1,389.4 C953.5,393.0 951.7,398.8 951.3,400.7" fill="none" stroke="#141414" stroke-width="1.2" />
<path d="M956.0,391.3 C957.5,389.7 958.8,387.8 962.6,387.5 C966.4,387.1 971.7,388.0 974.9,389.4 C978.2,390.7 978.4,391.8 978.7,394.1 C979.1,396.4 980.1,399.2 976.8,400.7 C973.6,402.2 966.8,401.9 962.6,401.7 C958.5,401.5 957.5,401.1 956.0,399.8 C954.5,398.5 955.0,396.8 955.0,395.0 C955.0,393.3 954.5,392.8 956.0,391.3 Z" fill="none" stroke="#141414" stroke-width="1.4" />
<path d="M949.4,403.0 L955.4,399.2" fill="none" stroke="#141414" stroke-width="1.2" />
<path d="M949.4,407.6 L959.2,402.6" fill="none" stroke="#141414" stroke-width="1.2" />
<path d="M949.4,403.0 L949.4,407.6" fill="none" stroke="#141414" stroke-width="1.2" />
<path d="M844.2,317.4 C845.5,314.8 846.5,314.3 848.0,315.9 C849.5,317.4 851.6,321.9 851.8,324.9 C852.0,328.0 850.7,328.9 848.9,331.0 C847.2,333.1 844.8,335.8 843.3,335.4 C841.7,334.9 841.2,332.3 841.4,328.7 C841.6,325.1 842.9,319.9 844.2,317.4 Z" fill="none" stroke="#141414" stroke-width="1.3" />
<path d="M847.1,317.4 C847.3,319.3 848.7,323.6 848.2,326.8 C847.7,330.1 845.2,332.3 844.4,333.7" fill="none" stroke="#141414" stroke-width="1.0" />
<path d="M943.1,406.8 C943.1,409.3 942.7,414.1 943.1,421.6 C943.5,429.1 945.5,445.4 945.6,451.9 C945.7,458.4 944.0,459.0 943.7,460.4" fill="none" stroke="#141414" stroke-width="1.2" />
<path d="M943.7,460.4 L1016.6,417.0" fill="none" stroke="#141414" stroke-width="1.2" />
<path d="M951.3,446.2 C951.1,446.1 949.7,445.0 949.7,444.7 C949.7,444.3 945.1,446.5 951.3,442.8 C957.4,439.1 1004.8,411.3 1010.9,407.9 C1017.1,404.6 1012.7,408.9 1012.8,409.3 C1012.9,409.6 1012.0,411.1 1011.9,411.3" fill="none" stroke="#141414" stroke-width="1.2" />
<path d="M1011.9,411.3 L951.3,446.2" fill="none" stroke="#141414" stroke-width="1.2" />
<path d="M837.6,443.4 L907.7,406.4" fill="none" stroke="#141414" stroke-width="1.3" />
<path d="M836.4,445.3 L908.8,407.9" fill="none" stroke="#141414" stroke-width="1.0" />
<path d="M874.5,450.0 L932.3,411.2" fill="none" stroke="#141414" stroke-width="1.2" />
<path d="M837.6,351.5 L852.7,364.7 L879.6,386.0" fill="none" stroke="#141414" stroke-width="1.6" />
<path d="M841.4,353.0 L863.2,368.5" fill="none" stroke="#141414" stroke-width="2.2" />
<path d="M852.7,364.7 L877.4,380.8" fill="none" stroke="#141414" stroke-width="1.0" />
<path d="M866.9,370.4 L892.5,383.7 L907.3,392.2" fill="none" stroke="#141414" stroke-width="2.4" />
<path d="M877.4,378.0 L917.5,405.7" fill="none" stroke="#141414" stroke-width="1.5" />
<path d="M892.5,385.6 L913.4,402.6" fill="none" stroke="#141414" stroke-width="1.0" />
<path d="M831.1,351.4 C828.5,353.2 823.4,356.4 818.2,360.1 C813.0,363.9 811.8,365.4 804.9,370.0 C798.1,374.6 790.2,377.6 784.1,383.3 C778.0,388.9 777.3,393.7 774.6,398.4 C772.0,403.2 773.3,403.2 770.8,406.9 C768.4,410.7 764.4,412.3 762.3,417.4 C760.2,422.5 760.0,427.6 760.4,432.5 C760.8,437.4 762.5,439.3 764.2,442.0 C765.9,444.6 768.0,445.0 768.9,445.8" fill="none" stroke="#141414" stroke-width="1.2" />
<path d="M830.5,367.7 C830.0,368.2 832.4,365.8 827.7,370.0 C822.9,374.2 814.0,381.4 806.8,388.9 C799.6,396.5 795.3,401.6 791.7,407.9 C788.1,414.1 789.4,417.7 788.8,420.2" fill="none" stroke="#141414" stroke-width="1.2" />
<path d="M774.6,401.3 C777.0,404.3 785.1,415.0 788.8,419.3 C792.6,423.5 791.2,423.1 797.4,426.8 C803.5,430.6 819.3,439.0 825.8,442.0 C832.3,445.0 830.8,443.4 836.2,444.8 C841.6,446.3 850.6,448.8 858.0,450.5 C865.4,452.3 876.9,454.5 880.7,455.3" fill="none" stroke="#141414" stroke-width="1.2" />
<path d="M839.0,444.3 L909.5,408.5" fill="none" stroke="#141414" stroke-width="1.4" />
<path d="M836.2,443.5 L907.3,406.9" fill="none" stroke="#141414" stroke-width="1.0" />
<path d="M876.0,448.6 L931.9,411.7" fill="none" stroke="#141414" stroke-width="1.2" />
<path d="M770.8,406.9 C770.2,409.3 768.6,415.6 769.9,419.3 C771.2,422.9 775.1,425.7 778.4,428.7 C781.7,431.7 788.1,437.6 789.8,437.3 C791.5,436.9 790.3,430.6 788.8,426.8 C787.4,423.1 783.8,418.2 781.3,414.5 C778.7,410.9 775.4,406.3 773.7,405.1 C771.9,403.8 771.5,404.6 770.8,406.9 Z" fill="none" stroke="#141414" stroke-width="1.3" />
<path d="M773.7,409.8 L773.7,421.2 L779.4,426.1" fill="none" stroke="#141414" stroke-width="1.0" />
<path d="M781.3,416.4 L782.2,431.0" fill="none" stroke="#141414" stroke-width="1.0" />
<path d="M785.1,423.1 L786.9,435.6" fill="none" stroke="#141414" stroke-width="1.0" />
<path d="M795.9,428.3 C796.0,430.1 796.0,436.0 796.3,439.1 C796.6,442.1 796.9,444.7 797.7,446.7 C798.4,448.6 800.3,450.1 800.8,450.8" fill="none" stroke="#141414" stroke-width="1.2" />
<path d="M800.8,450.8 L817.4,458.6 L821.3,455.9 L827.1,444.1" fill="none" stroke="#141414" stroke-width="1.2" />
<path d="M798.5,432.2 C798.6,434.0 798.5,440.3 799.0,443.0 C799.6,445.6 801.3,447.2 801.8,448.0" fill="none" stroke="#141414" stroke-width="1.0" />
<path d="M801.8,448.0 L816.4,455.9 L823.8,445.1" fill="none" stroke="#141414" stroke-width="1.0" />
<path d="M827.1,444.1 L818.4,459.8 L824.4,463.7 L834.2,448.8" fill="none" stroke="#141414" stroke-width="1.2" />
<ellipse cx="809.6" cy="444.4" rx="5.0" ry="5.4" transform="rotate(-15.0 809.6 444.4)" fill="none" stroke="#141414" stroke-width="1.6"/>
<path d="M804.9,443.0 L814.5,446.1" fill="none" stroke="#141414" stroke-width="2.2" />
<path d="M806.6,440.8 L812.5,442.2" fill="none" stroke="#141414" stroke-width="1.0" />
<path d="M806.2,446.9 L812.0,448.4" fill="none" stroke="#141414" stroke-width="1.0" />
<path d="M834.3,447.7 L826.7,462.8 L844.7,468.5 L849.5,451.5 L834.3,447.7" fill="none" stroke="#141414" stroke-width="1.4" />
<path d="M836.2,450.5 L830.5,461.9 L842.8,464.7 L846.6,452.4 L836.2,450.5" fill="none" stroke="#141414" stroke-width="1.0" />
<path d="M849.5,451.5 C851.4,451.7 859.8,452.9 863.7,453.4 C867.6,453.9 877.1,454.2 878.8,455.3 C880.6,456.3 879.0,458.8 876.9,460.9 C874.9,463.1 868.0,470.4 863.7,471.4 C859.4,472.4 847.3,468.9 844.7,468.5" fill="none" stroke="#141414" stroke-width="1.4" />
<path d="M853.3,455.3 C852.6,456.5 847.4,463.0 848.5,464.7 C849.7,466.5 858.5,469.3 861.8,468.5 C865.1,467.8 871.4,460.7 873.2,459.0 C874.9,457.4 877.7,456.7 875.0,456.2 C872.4,455.7 856.2,455.4 853.3,455.3" fill="none" stroke="#141414" stroke-width="1.0" />
<path d="M856.1,459.0 L863.7,460.9 L861.8,465.7" fill="none" stroke="#141414" stroke-width="1.0" />
<path d="M865.6,456.2 L867.5,462.8" fill="none" stroke="#141414" stroke-width="1.0" />
<path d="M764.2,442.0 C765.9,443.3 769.7,446.4 774.6,449.6 C779.5,452.7 786.3,457.2 793.6,460.9 C800.8,464.7 810.3,468.8 818.2,472.3 C826.1,475.8 833.0,479.4 840.9,481.8 C848.8,484.2 858.6,486.2 865.6,486.5 C872.5,486.8 879.8,484.2 882.6,483.7" fill="none" stroke="#141414" stroke-width="1.2" />
<path d="M760.4,434.4 C760.9,436.3 761.5,442.3 763.3,445.8 C765.0,449.3 768.9,452.4 770.8,455.3 C772.7,458.1 769.6,458.7 774.6,462.8 C779.7,466.9 792.0,474.5 801.2,479.9 C810.3,485.3 822.9,491.9 829.6,495.0 C836.2,498.2 836.5,497.3 840.9,498.8 C845.4,500.4 850.7,502.8 856.1,504.5 C861.5,506.3 869.8,509.1 873.2,509.3 C876.5,509.4 877.3,506.3 876.0,505.5 C874.7,504.7 867.3,504.7 865.6,504.5" fill="none" stroke="#141414" stroke-width="1.2" />
<path d="M773.4,457.6 C773.4,456.8 772.6,453.0 772.9,451.8 C773.3,450.5 775.0,448.6 775.9,448.3 C776.7,448.1 774.9,447.5 779.3,449.8 C783.7,452.1 801.0,461.5 808.6,465.6 C816.1,469.8 831.8,478.3 835.9,481.1 C840.0,483.8 838.8,484.3 839.4,485.9 C839.9,487.6 839.8,492.3 839.8,493.3" fill="none" stroke="#141414" stroke-width="1.2" />
<path d="M773.4,457.6 C774.8,459.0 776.6,461.0 779.3,463.5 C782.0,466.0 782.4,466.3 785.2,468.4 C787.9,470.5 787.8,470.4 791.0,472.5 C794.2,474.5 795.0,474.9 798.8,477.1 C802.7,479.4 804.9,480.2 807.6,482.0 C810.4,483.9 808.0,483.8 810.5,485.2 C813.1,486.5 814.7,486.3 818.4,487.9 C822.0,489.5 822.8,490.4 826.2,492.0 C829.6,493.6 829.8,493.8 833.0,494.9 C836.2,496.0 838.2,496.3 839.8,496.7" fill="none" stroke="#141414" stroke-width="1.2" />
<path d="M776.4,452.7 L835.9,483.2" fill="none" stroke="#141414" stroke-width="1.1" />
<path d="M775.6,456.2 L804.7,472.3 L833.0,488.4" fill="none" stroke="#141414" stroke-width="1.1" />
<ellipse cx="775.6" cy="450.8" rx="2.6" ry="2.2" transform="rotate(0.0 775.6 450.8)" fill="none" stroke="#141414" stroke-width="1.1"/>
<ellipse cx="764.8" cy="443.8" rx="2.3" ry="5.2" transform="rotate(-12.0 764.8 443.8)" fill="none" stroke="#141414" stroke-width="1.1"/>
<ellipse cx="853.8" cy="494.1" rx="6.2" ry="5.8" transform="rotate(20.0 853.8 494.1)" fill="none" stroke="#141414" stroke-width="1.4"/>
<ellipse cx="853.8" cy="494.1" rx="4.0" ry="3.7" transform="rotate(20.0 853.8 494.1)" fill="none" stroke="#141414" stroke-width="1.1"/>
<path d="M865.6,486.5 L865.2,502.6 L875.0,505.5" fill="none" stroke="#141414" stroke-width="1.2" />
<path d="M882.6,483.7 L881.1,500.7 L876.0,505.5" fill="none" stroke="#141414" stroke-width="1.2" />
<ellipse cx="910.3" cy="485.2" rx="34.6" ry="24.6" transform="rotate(-72.0 910.3 485.2)" fill="none" stroke="#141414" stroke-width="1.4"/>
<ellipse cx="911.3" cy="486.3" rx="23.0" ry="16.8" transform="rotate(-72.0 911.3 486.3)" fill="none" stroke="#141414" stroke-width="1.4"/>
<ellipse cx="908.6" cy="485.0" rx="3.4" ry="3.6" transform="rotate(0.0 908.6 485.0)" fill="#222" stroke="#141414" stroke-width="1.0"/>
<path d="M915.2,478.7 C915.5,477.4 917.4,469.2 918.2,468.2 C919.0,467.1 921.3,469.0 922.0,469.7 C922.6,470.4 924.7,472.7 924.0,473.9 C923.4,475.1 917.4,479.3 916.4,479.8 C915.3,480.4 915.0,480.1 915.2,478.7 Z" fill="none" stroke="#141414" stroke-width="1.15" />
<path d="M917.8,484.5 C918.7,483.7 924.7,479.4 925.7,479.4 C926.7,479.4 926.6,483.2 926.5,484.4 C926.4,485.7 925.9,489.6 924.9,489.8 C923.9,490.1 918.5,487.1 917.7,486.5 C916.8,485.9 916.9,485.3 917.8,484.5 Z" fill="none" stroke="#141414" stroke-width="1.15" />
<path d="M915.5,491.6 C916.4,492.0 921.9,494.8 922.3,495.8 C922.8,496.8 920.4,499.7 919.6,500.6 C918.8,501.4 916.2,504.0 915.6,503.1 C914.9,502.2 914.2,494.4 914.2,493.0 C914.1,491.7 914.5,491.3 915.5,491.6 Z" fill="none" stroke="#141414" stroke-width="1.15" />
<path d="M910.0,494.7 C910.2,496.0 911.1,503.8 910.7,505.1 C910.3,506.4 907.3,506.1 906.4,506.0 C905.6,505.8 902.8,505.1 903.0,503.7 C903.2,502.4 907.7,495.5 908.5,494.5 C909.3,493.4 909.7,493.5 910.0,494.7 Z" fill="none" stroke="#141414" stroke-width="1.15" />
<path d="M905.5,491.5 C904.9,492.7 900.5,499.6 899.5,500.2 C898.5,500.8 897.3,497.6 896.9,496.5 C896.6,495.5 895.8,492.0 896.7,491.2 C897.6,490.4 903.9,489.7 905.0,489.8 C906.0,489.8 906.1,490.3 905.5,491.5 Z" fill="none" stroke="#141414" stroke-width="1.15" />
<path d="M905.4,484.3 C904.3,484.6 898.0,485.4 897.2,484.9 C896.3,484.3 897.8,480.6 898.2,479.4 C898.7,478.3 900.5,474.7 901.4,475.0 C902.3,475.4 905.7,481.4 906.2,482.4 C906.7,483.5 906.4,484.0 905.4,484.3 Z" fill="none" stroke="#141414" stroke-width="1.15" />
<path d="M909.7,478.7 C909.0,477.8 905.6,471.9 905.5,470.6 C905.5,469.3 908.4,467.8 909.4,467.5 C910.3,467.1 913.3,466.1 913.5,467.3 C913.8,468.6 911.7,476.7 911.3,478.0 C910.8,479.3 910.4,479.5 909.7,478.7 Z" fill="none" stroke="#141414" stroke-width="1.15" />
<path d="M882.6,483.7 C883.4,480.6 883.0,475.3 886.4,468.5 C889.8,461.7 893.6,455.3 899.7,449.6 C905.7,443.9 910.3,442.0 916.7,440.1 C923.2,438.2 927.3,439.0 931.9,440.1 C936.4,441.2 937.0,442.8 939.5,445.8 C941.9,448.8 943.1,453.4 944.0,455.3" fill="none" stroke="#141414" stroke-width="1.2" />
<path d="M866.5,485.6 C867.5,482.2 867.3,475.7 871.3,468.5 C875.2,461.3 879.6,456.0 886.4,449.6 C893.2,443.1 897.8,439.7 905.4,436.3 C912.9,432.9 917.9,432.5 924.3,432.5 C930.8,432.5 933.6,434.4 937.6,436.3 C941.5,438.2 942.7,440.9 944.0,442.0" fill="none" stroke="#141414" stroke-width="1.2" />
<path d="M891.2,474.2 C893.2,471.2 896.5,464.0 901.6,459.0 C906.7,454.1 911.4,451.1 916.7,449.6 C922.0,448.1 924.7,449.6 928.1,451.5 C931.5,453.4 932.3,455.6 933.8,459.0 C935.3,462.5 935.3,466.6 935.7,468.5" fill="none" stroke="#141414" stroke-width="1.2" />
<path d="M881.2,459.5 C886.1,455.7 897.1,445.1 905.8,440.5 C914.5,436.0 918.7,436.7 924.7,436.7 C930.8,436.7 932.3,437.5 936.1,440.5 C939.9,443.6 942.2,449.6 943.7,451.9" fill="none" stroke="#141414" stroke-width="1.2" />
</svg>
</body></html>
